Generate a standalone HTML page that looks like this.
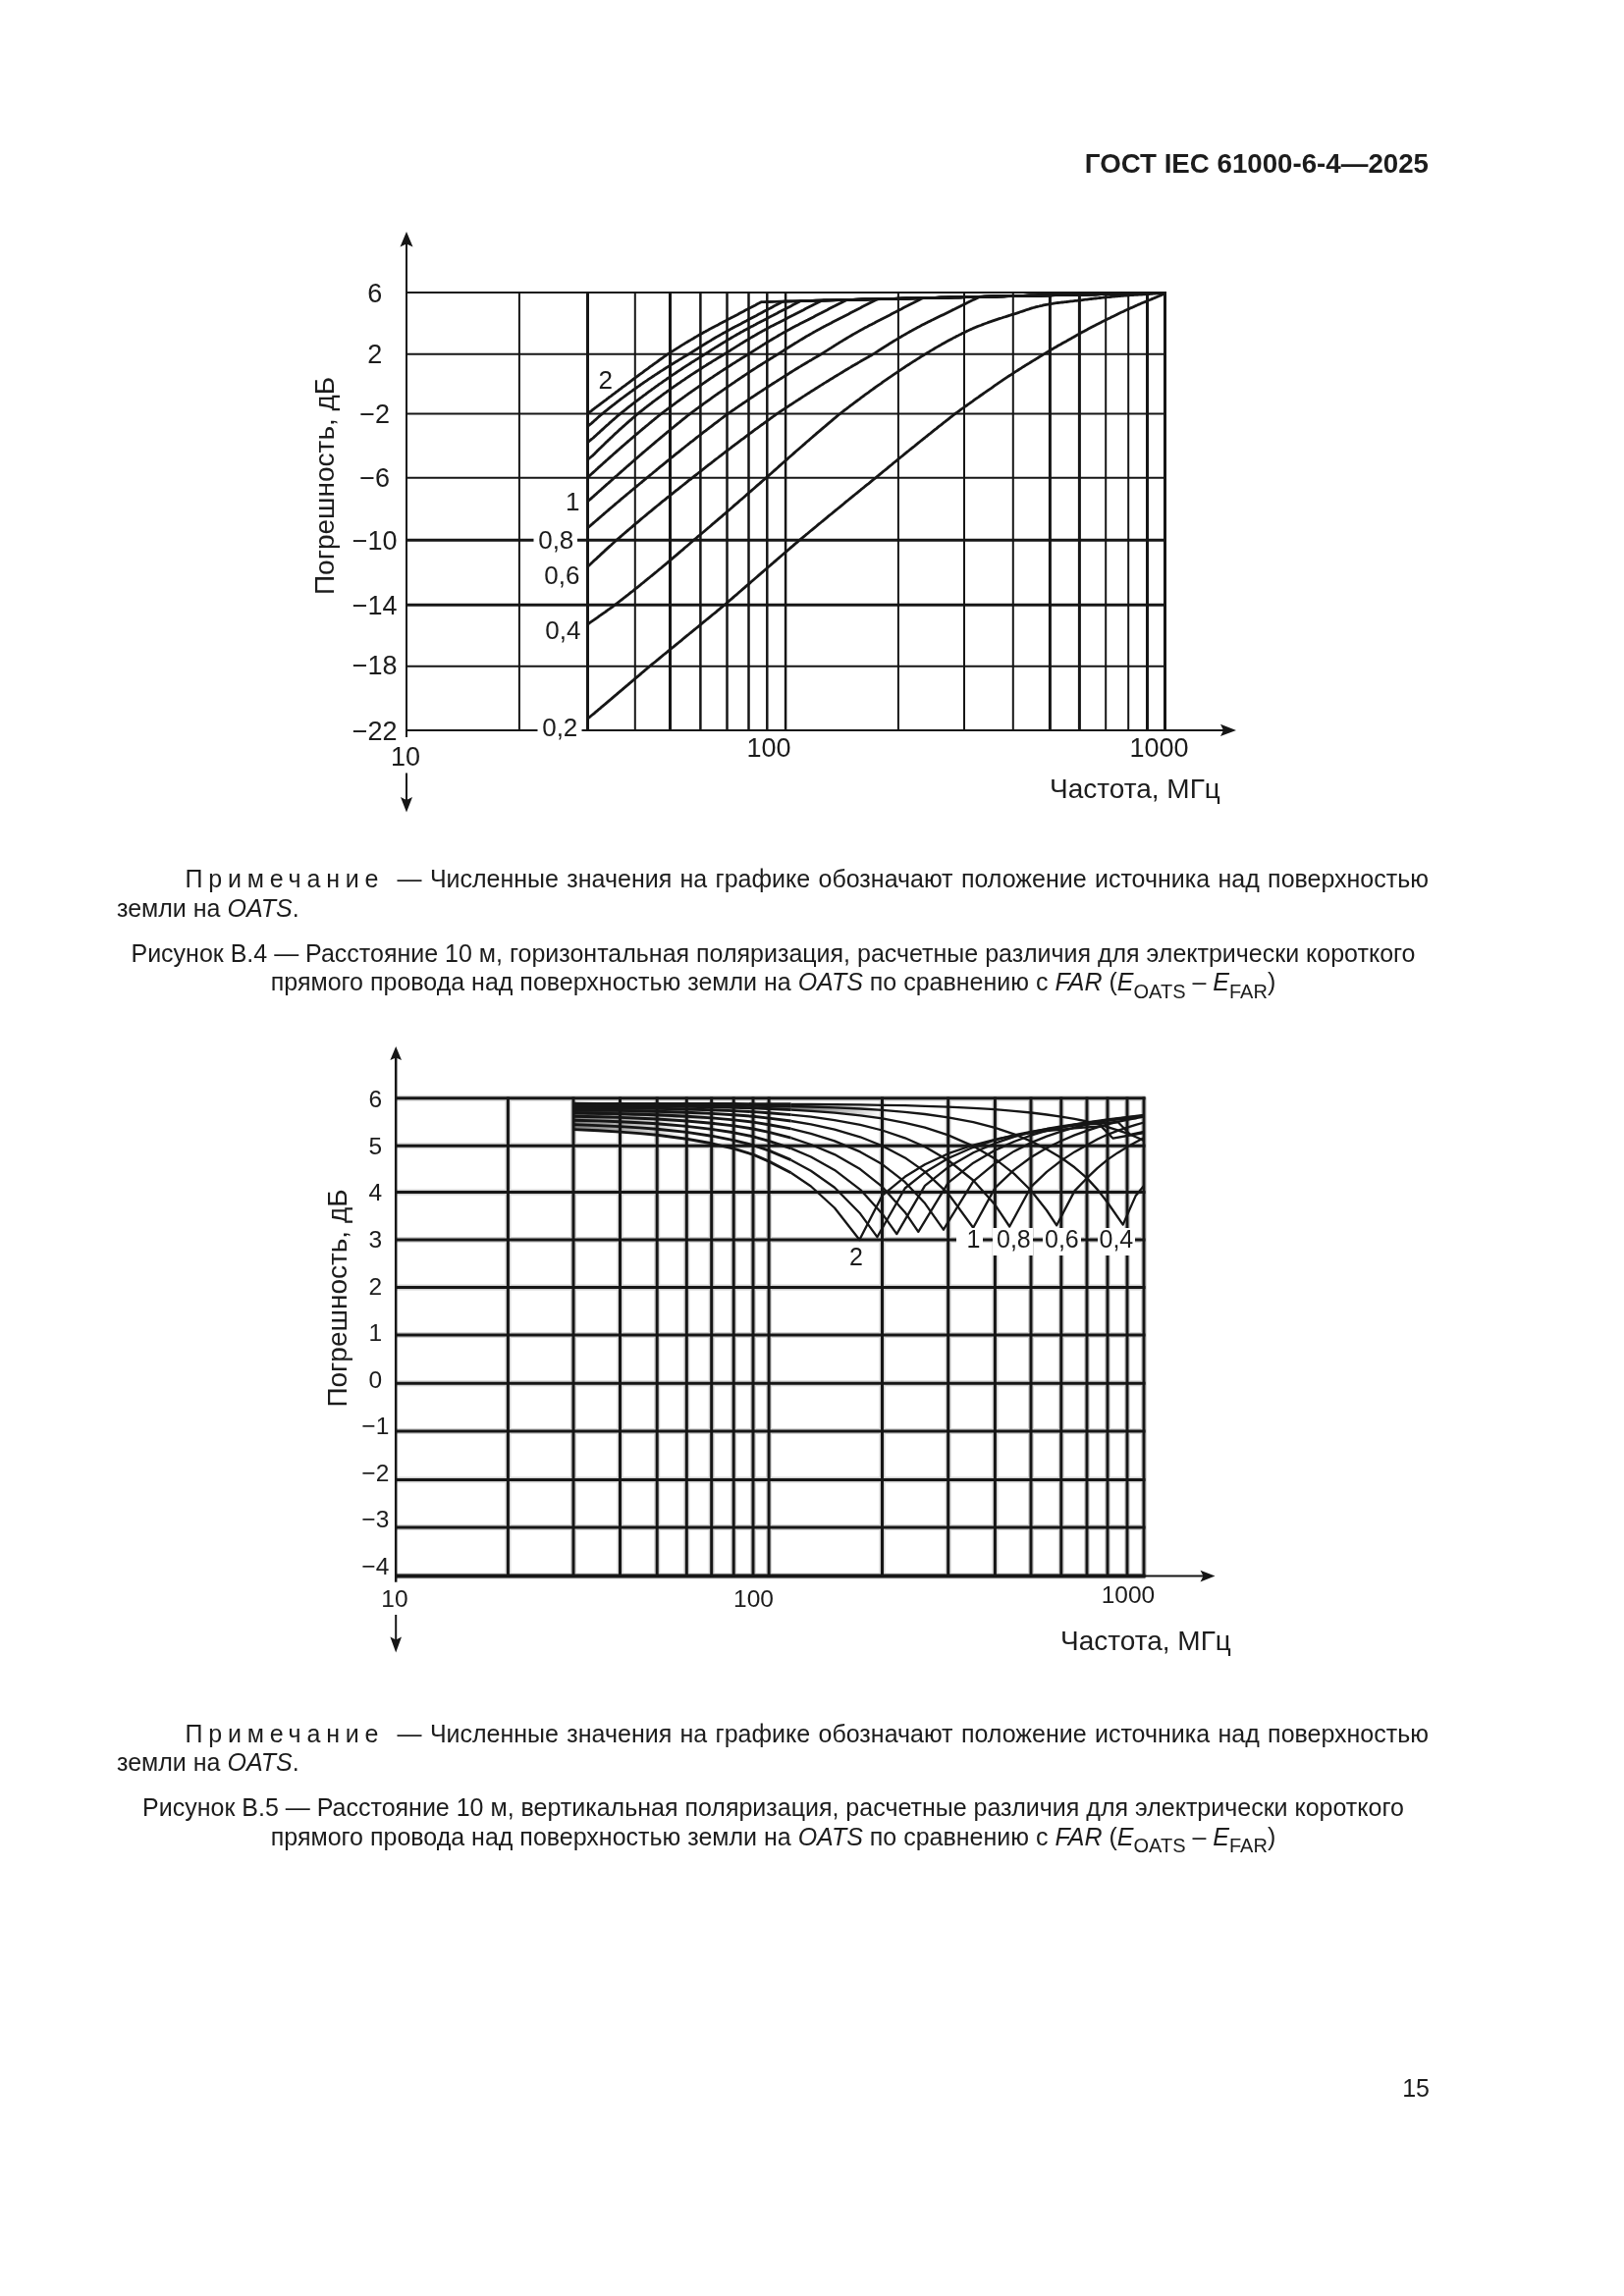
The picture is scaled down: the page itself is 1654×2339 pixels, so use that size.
<!DOCTYPE html>
<html><head><meta charset="utf-8"><style>
html,body{margin:0;padding:0;background:#fff;}
body{filter:grayscale(1);}
body{width:1654px;height:2339px;position:relative;overflow:hidden;font-family:"Liberation Sans",Arial,sans-serif;color:#1c1c1c;}
.t{position:absolute;white-space:nowrap;font-size:25px;line-height:25px;}
.hd{position:absolute;font-weight:bold;font-size:27.7px;line-height:28px;white-space:nowrap;}
.j{text-align:justify;text-align-last:justify;}
.sp{letter-spacing:5.8px;}
sub{font-size:0.8em;line-height:0;position:relative;vertical-align:baseline;top:0.38em;}
svg{position:absolute;left:0;top:0;}
svg line{stroke:#161616;}
svg path.c{fill:none;stroke:#161616;stroke-linejoin:round;}
svg path.f{fill:#161616;stroke:none;}
svg rect.w{fill:#fff;stroke:none;}
svg text{font-family:"Liberation Sans",Arial,sans-serif;fill:#1c1c1c;}
.tl{font-size:27px;} .tl2{font-size:24.5px;} .at{font-size:28px;} .cl{font-size:25px;}
</style></head><body>
<div class="hd" style="right:199px;top:152.89px;">ГОСТ IEC 61000-6-4—2025</div>
<svg width="1654" height="2339" viewBox="0 0 1654 2339">
<line x1="414" y1="298.0" x2="1187.5" y2="298.0" stroke-width="2"/>
<line x1="414" y1="360.8" x2="1187.5" y2="360.8" stroke-width="2"/>
<line x1="414" y1="421.6" x2="1187.5" y2="421.6" stroke-width="2"/>
<line x1="414" y1="486.7" x2="1187.5" y2="486.7" stroke-width="2"/>
<line x1="414" y1="550.3" x2="1187.5" y2="550.3" stroke-width="3"/>
<line x1="414" y1="616.3" x2="1187.5" y2="616.3" stroke-width="3"/>
<line x1="414" y1="678.7" x2="1187.5" y2="678.7" stroke-width="2"/>
<line x1="414" y1="743.9" x2="1187.5" y2="743.9" stroke-width="2"/>
<line x1="528.9" y1="297" x2="528.9" y2="745" stroke-width="2"/>
<line x1="598.5" y1="297" x2="598.5" y2="745" stroke-width="3"/>
<line x1="646.8" y1="297" x2="646.8" y2="745" stroke-width="2"/>
<line x1="682.5" y1="297" x2="682.5" y2="745" stroke-width="3"/>
<line x1="713.4" y1="297" x2="713.4" y2="745" stroke-width="2.5"/>
<line x1="740.5" y1="297" x2="740.5" y2="745" stroke-width="2.5"/>
<line x1="762.5" y1="297" x2="762.5" y2="745" stroke-width="2.5"/>
<line x1="781.3" y1="297" x2="781.3" y2="745" stroke-width="2.5"/>
<line x1="800.1" y1="297" x2="800.1" y2="745" stroke-width="2.5"/>
<line x1="914.9" y1="297" x2="914.9" y2="745" stroke-width="2"/>
<line x1="982" y1="297" x2="982" y2="745" stroke-width="2"/>
<line x1="1031.8" y1="297" x2="1031.8" y2="745" stroke-width="2"/>
<line x1="1069.4" y1="297" x2="1069.4" y2="745" stroke-width="3"/>
<line x1="1099.4" y1="297" x2="1099.4" y2="745" stroke-width="3"/>
<line x1="1126.2" y1="297" x2="1126.2" y2="745" stroke-width="2"/>
<line x1="1149.2" y1="297" x2="1149.2" y2="745" stroke-width="2"/>
<line x1="1168.5" y1="297" x2="1168.5" y2="745" stroke-width="3"/>
<line x1="1186.5" y1="297" x2="1186.5" y2="745" stroke-width="3"/>
<line x1="414" y1="246" x2="414" y2="751" stroke-width="2"/>
<path d="M414,236 L420.5,251.5 L414,248.5 L407.5,251.5 Z" class="f"/>
<line x1="414" y1="743.9" x2="1250" y2="743.9" stroke-width="2"/>
<path d="M1259,743.9 L1243,750 L1246,743.9 L1243,737.8 Z" class="f"/>
<line x1="414" y1="787.5" x2="414" y2="818" stroke-width="2"/>
<path d="M414,827.5 L420,812 L414,815 L408,812 Z" class="f"/>
<path d="M598.5,732.2 L600.0,731.0 L601.4,729.8 L602.9,728.5 L604.4,727.3 L605.9,726.1 L607.3,724.8 L608.8,723.6 L610.3,722.3 L611.8,721.1 L613.2,719.8 L614.7,718.6 L616.2,717.4 L617.7,716.1 L619.1,714.9 L620.6,713.6 L622.1,712.4 L623.6,711.1 L625.0,709.9 L626.5,708.6 L628.0,707.4 L629.4,706.1 L630.9,704.9 L632.4,703.6 L633.9,702.4 L635.3,701.1 L636.8,699.9 L638.3,698.6 L639.8,697.4 L641.2,696.1 L642.7,694.9 L644.2,693.6 L645.7,692.4 L647.1,691.1 L648.6,689.9 L650.1,688.6 L651.6,687.4 L653.0,686.1 L654.5,684.8 L656.0,683.6 L657.4,682.3 L658.9,681.1 L660.4,679.8 L661.9,678.6 L663.3,677.4 L664.8,676.2 L666.3,675.0 L667.8,673.8 L669.2,672.6 L670.7,671.4 L672.2,670.1 L673.7,668.9 L675.1,667.7 L676.6,666.5 L678.1,665.3 L679.6,664.1 L681.0,662.9 L682.5,661.7 L684.0,660.5 L685.4,659.3 L686.9,658.1 L688.4,656.9 L689.9,655.7 L691.3,654.5 L692.8,653.3 L694.3,652.1 L695.8,650.8 L697.2,649.6 L698.7,648.4 L700.2,647.2 L701.7,646.0 L703.1,644.8 L704.6,643.6 L706.1,642.4 L707.6,641.2 L709.0,640.0 L710.5,638.8 L712.0,637.6 L713.4,636.3 L714.9,635.1 L716.4,633.9 L717.9,632.7 L719.3,631.5 L720.8,630.3 L722.3,629.1 L723.8,627.9 L725.2,626.7 L726.7,625.5 L728.2,624.3 L729.7,623.1 L731.1,621.8 L732.6,620.6 L734.1,619.4 L735.6,618.2 L737.0,617.0 L738.5,615.8 L740.0,614.5 L741.4,613.2 L742.9,611.9 L744.4,610.7 L745.9,609.4 L747.3,608.1 L748.8,606.8 L750.3,605.6 L751.8,604.3 L753.2,603.0 L754.7,601.7 L756.2,600.4 L757.7,599.2 L759.1,597.9 L760.6,596.6 L762.1,595.3 L763.6,594.1 L765.0,592.8 L766.5,591.5 L768.0,590.2 L769.4,589.0 L770.9,587.7 L772.4,586.4 L773.9,585.1 L775.3,583.9 L776.8,582.6 L778.3,581.3 L779.8,580.0 L781.2,578.8 L782.7,577.5 L784.2,576.2 L785.7,574.9 L787.1,573.7 L788.6,572.4 L790.1,571.1 L791.6,569.8 L793.0,568.6 L794.5,567.3 L796.0,566.0 L797.4,564.8 L798.9,563.5 L800.4,562.2 L801.9,560.9 L803.3,559.7 L804.8,558.4 L806.3,557.1 L807.8,555.9 L809.2,554.6 L810.7,553.3 L812.2,552.1 L813.7,550.8 L815.1,549.6 L816.6,548.3 L818.1,547.1 L819.6,545.9 L821.0,544.7 L822.5,543.5 L824.0,542.2 L825.4,541.0 L826.9,539.8 L828.4,538.6 L829.9,537.4 L831.3,536.2 L832.8,534.9 L834.3,533.7 L835.8,532.5 L837.2,531.3 L838.7,530.1 L840.2,528.9 L841.7,527.7 L843.1,526.4 L844.6,525.2 L846.1,524.0 L847.6,522.8 L849.0,521.6 L850.5,520.4 L852.0,519.2 L853.4,518.0 L854.9,516.8 L856.4,515.6 L857.9,514.4 L859.3,513.2 L860.8,511.9 L862.3,510.7 L863.8,509.5 L865.2,508.3 L866.7,507.1 L868.2,505.9 L869.7,504.7 L871.1,503.5 L872.6,502.3 L874.1,501.1 L875.6,499.9 L877.0,498.7 L878.5,497.5 L880.0,496.3 L881.4,495.1 L882.9,493.9 L884.4,492.8 L885.9,491.6 L887.3,490.4 L888.8,489.2 L890.3,488.0 L891.8,486.8 L893.2,485.6 L894.7,484.4 L896.2,483.1 L897.7,481.9 L899.1,480.7 L900.6,479.5 L902.1,478.3 L903.6,477.1 L905.0,475.9 L906.5,474.7 L908.0,473.5 L909.4,472.2 L910.9,471.0 L912.4,469.8 L913.9,468.6 L915.3,467.4 L916.8,466.2 L918.3,465.0 L919.8,463.8 L921.2,462.6 L922.7,461.4 L924.2,460.2 L925.7,459.0 L927.1,457.8 L928.6,456.6 L930.1,455.5 L931.6,454.3 L933.0,453.1 L934.5,451.9 L936.0,450.7 L937.4,449.5 L938.9,448.3 L940.4,447.1 L941.9,446.0 L943.3,444.8 L944.8,443.6 L946.3,442.4 L947.8,441.3 L949.2,440.1 L950.7,438.9 L952.2,437.7 L953.7,436.6 L955.1,435.4 L956.6,434.2 L958.1,433.1 L959.6,431.9 L961.0,430.7 L962.5,429.6 L964.0,428.4 L965.4,427.3 L966.9,426.1 L968.4,424.9 L969.9,423.8 L971.3,422.6 L972.8,421.5 L974.3,420.4 L975.8,419.4 L977.2,418.3 L978.7,417.2 L980.2,416.2 L981.7,415.1 L983.1,414.0 L984.6,413.0 L986.1,411.9 L987.6,410.9 L989.0,409.8 L990.5,408.8 L992.0,407.7 L993.4,406.7 L994.9,405.6 L996.4,404.6 L997.9,403.5 L999.3,402.5 L1000.8,401.5 L1002.3,400.4 L1003.8,399.4 L1005.2,398.4 L1006.7,397.3 L1008.2,396.3 L1009.7,395.3 L1011.1,394.3 L1012.6,393.2 L1014.1,392.2 L1015.6,391.2 L1017.0,390.2 L1018.5,389.2 L1020.0,388.2 L1021.4,387.2 L1022.9,386.2 L1024.4,385.2 L1025.9,384.2 L1027.3,383.2 L1028.8,382.3 L1030.3,381.3 L1031.8,380.3 L1033.2,379.4 L1034.7,378.4 L1036.2,377.5 L1037.7,376.5 L1039.1,375.6 L1040.6,374.7 L1042.1,373.7 L1043.6,372.8 L1045.0,371.9 L1046.5,371.0 L1048.0,370.1 L1049.4,369.2 L1050.9,368.3 L1052.4,367.4 L1053.9,366.5 L1055.3,365.6 L1056.8,364.7 L1058.3,363.8 L1059.8,362.9 L1061.2,362.0 L1062.7,361.1 L1064.2,360.2 L1065.7,359.3 L1067.1,358.4 L1068.6,357.5 L1070.1,356.6 L1071.6,355.8 L1073.0,354.9 L1074.5,354.0 L1076.0,353.2 L1077.4,352.3 L1078.9,351.5 L1080.4,350.7 L1081.9,349.8 L1083.3,349.0 L1084.8,348.2 L1086.3,347.4 L1087.8,346.5 L1089.2,345.7 L1090.7,344.9 L1092.2,344.1 L1093.7,343.3 L1095.1,342.4 L1096.6,341.6 L1098.1,340.8 L1099.6,340.0 L1101.0,339.1 L1102.5,338.3 L1104.0,337.5 L1105.4,336.7 L1106.9,335.9 L1108.4,335.1 L1109.9,334.3 L1111.3,333.5 L1112.8,332.7 L1114.3,331.9 L1115.8,331.2 L1117.2,330.4 L1118.7,329.7 L1120.2,328.9 L1121.7,328.2 L1123.1,327.4 L1124.6,326.7 L1126.1,326.0 L1127.6,325.3 L1129.0,324.6 L1130.5,323.9 L1132.0,323.1 L1133.4,322.4 L1134.9,321.7 L1136.4,321.0 L1137.9,320.2 L1139.3,319.5 L1140.8,318.8 L1142.3,318.1 L1143.8,317.4 L1145.2,316.7 L1146.7,316.0 L1148.2,315.4 L1149.7,314.7 L1151.1,314.0 L1152.6,313.4 L1154.1,312.7 L1155.6,312.1 L1157.0,311.4 L1158.5,310.8 L1160.0,310.1 L1161.4,309.5 L1162.9,308.8 L1164.4,308.2 L1165.9,307.6 L1167.3,307.0 L1168.8,306.4 L1170.3,305.8 L1171.8,305.2 L1173.2,304.6 L1174.7,304.0 L1176.2,303.4 L1177.7,302.8 L1179.1,302.1 L1180.6,301.5 L1182.1,300.9 L1183.6,300.2 L1185.0,299.5 L1186.5,299.0" class="c" stroke-width="2.8"/>
<path d="M598.5,636.0 L600.0,635.0 L601.4,633.9 L602.9,632.9 L604.4,631.9 L605.9,630.9 L607.3,629.8 L608.8,628.8 L610.3,627.7 L611.8,626.7 L613.2,625.7 L614.7,624.6 L616.2,623.6 L617.7,622.5 L619.1,621.4 L620.6,620.4 L622.1,619.3 L623.6,618.3 L625.0,617.2 L626.5,616.1 L628.0,615.0 L629.4,613.8 L630.9,612.7 L632.4,611.5 L633.9,610.4 L635.3,609.2 L636.8,608.1 L638.3,606.9 L639.8,605.8 L641.2,604.6 L642.7,603.4 L644.2,602.3 L645.7,601.1 L647.1,599.9 L648.6,598.8 L650.1,597.6 L651.6,596.4 L653.0,595.2 L654.5,594.0 L656.0,592.8 L657.4,591.6 L658.9,590.4 L660.4,589.2 L661.9,588.0 L663.3,586.8 L664.8,585.6 L666.3,584.4 L667.8,583.2 L669.2,582.0 L670.7,580.7 L672.2,579.5 L673.7,578.3 L675.1,577.1 L676.6,575.8 L678.1,574.6 L679.6,573.4 L681.0,572.1 L682.5,570.9 L684.0,569.6 L685.4,568.4 L686.9,567.1 L688.4,565.9 L689.9,564.6 L691.3,563.4 L692.8,562.1 L694.3,560.8 L695.8,559.6 L697.2,558.3 L698.7,557.0 L700.2,555.8 L701.7,554.5 L703.1,553.2 L704.6,551.9 L706.1,550.7 L707.6,549.4 L709.0,548.2 L710.5,546.9 L712.0,545.7 L713.4,544.5 L714.9,543.2 L716.4,542.0 L717.9,540.7 L719.3,539.5 L720.8,538.2 L722.3,537.0 L723.8,535.7 L725.2,534.4 L726.7,533.2 L728.2,531.9 L729.7,530.7 L731.1,529.4 L732.6,528.1 L734.1,526.9 L735.6,525.6 L737.0,524.3 L738.5,523.1 L740.0,521.8 L741.4,520.5 L742.9,519.3 L744.4,518.0 L745.9,516.7 L747.3,515.4 L748.8,514.1 L750.3,512.9 L751.8,511.6 L753.2,510.3 L754.7,509.0 L756.2,507.8 L757.7,506.5 L759.1,505.2 L760.6,503.9 L762.1,502.6 L763.6,501.3 L765.0,500.1 L766.5,498.8 L768.0,497.5 L769.4,496.2 L770.9,494.9 L772.4,493.6 L773.9,492.4 L775.3,491.1 L776.8,489.8 L778.3,488.5 L779.8,487.2 L781.2,485.9 L782.7,484.6 L784.2,483.3 L785.7,482.0 L787.1,480.7 L788.6,479.4 L790.1,478.1 L791.6,476.8 L793.0,475.4 L794.5,474.1 L796.0,472.8 L797.4,471.5 L798.9,470.2 L800.4,468.9 L801.9,467.6 L803.3,466.3 L804.8,465.0 L806.3,463.7 L807.8,462.4 L809.2,461.1 L810.7,459.8 L812.2,458.5 L813.7,457.2 L815.1,456.0 L816.6,454.7 L818.1,453.4 L819.6,452.1 L821.0,450.8 L822.5,449.5 L824.0,448.3 L825.4,447.0 L826.9,445.7 L828.4,444.4 L829.9,443.2 L831.3,441.9 L832.8,440.6 L834.3,439.4 L835.8,438.1 L837.2,436.9 L838.7,435.6 L840.2,434.4 L841.7,433.1 L843.1,431.9 L844.6,430.6 L846.1,429.4 L847.6,428.1 L849.0,426.9 L850.5,425.7 L852.0,424.4 L853.4,423.2 L854.9,422.0 L856.4,420.8 L857.9,419.7 L859.3,418.5 L860.8,417.4 L862.3,416.3 L863.8,415.2 L865.2,414.0 L866.7,412.9 L868.2,411.8 L869.7,410.7 L871.1,409.6 L872.6,408.5 L874.1,407.4 L875.6,406.3 L877.0,405.2 L878.5,404.1 L880.0,403.0 L881.4,401.9 L882.9,400.8 L884.4,399.8 L885.9,398.7 L887.3,397.6 L888.8,396.6 L890.3,395.5 L891.8,394.4 L893.2,393.4 L894.7,392.3 L896.2,391.3 L897.7,390.3 L899.1,389.2 L900.6,388.2 L902.1,387.2 L903.6,386.1 L905.0,385.1 L906.5,384.1 L908.0,383.1 L909.4,382.1 L910.9,381.1 L912.4,380.1 L913.9,379.1 L915.3,378.1 L916.8,377.1 L918.3,376.1 L919.8,375.1 L921.2,374.2 L922.7,373.2 L924.2,372.2 L925.7,371.3 L927.1,370.3 L928.6,369.4 L930.1,368.4 L931.6,367.5 L933.0,366.6 L934.5,365.6 L936.0,364.7 L937.4,363.8 L938.9,362.9 L940.4,362.0 L941.9,361.1 L943.3,360.2 L944.8,359.3 L946.3,358.4 L947.8,357.4 L949.2,356.6 L950.7,355.7 L952.2,354.8 L953.7,353.9 L955.1,353.1 L956.6,352.2 L958.1,351.4 L959.6,350.5 L961.0,349.7 L962.5,348.9 L964.0,348.1 L965.4,347.3 L966.9,346.5 L968.4,345.7 L969.9,344.9 L971.3,344.1 L972.8,343.4 L974.3,342.6 L975.8,341.9 L977.2,341.1 L978.7,340.4 L980.2,339.6 L981.7,338.9 L983.1,338.2 L984.6,337.4 L986.1,336.8 L987.6,336.1 L989.0,335.4 L990.5,334.8 L992.0,334.1 L993.4,333.5 L994.9,332.9 L996.4,332.3 L997.9,331.7 L999.3,331.2 L1000.8,330.6 L1002.3,330.0 L1003.8,329.5 L1005.2,329.0 L1006.7,328.4 L1008.2,327.9 L1009.7,327.4 L1011.1,326.9 L1012.6,326.4 L1014.1,325.9 L1015.6,325.4 L1017.0,324.9 L1018.5,324.4 L1020.0,324.0 L1021.4,323.5 L1022.9,323.0 L1024.4,322.6 L1025.9,322.1 L1027.3,321.6 L1028.8,321.2 L1030.3,320.7 L1031.8,320.2 L1033.2,319.8 L1034.7,319.3 L1036.2,318.8 L1037.7,318.3 L1039.1,317.8 L1040.6,317.3 L1042.1,316.8 L1043.6,316.3 L1045.0,315.8 L1046.5,315.3 L1048.0,314.9 L1049.4,314.4 L1050.9,313.9 L1052.4,313.5 L1053.9,313.1 L1055.3,312.7 L1056.8,312.3 L1058.3,312.0 L1059.8,311.6 L1061.2,311.3 L1062.7,310.9 L1064.2,310.6 L1065.7,310.3 L1067.1,310.1 L1068.6,309.8 L1070.1,309.6 L1071.6,309.4 L1073.0,309.1 L1074.5,308.9 L1076.0,308.7 L1077.4,308.5 L1078.9,308.4 L1080.4,308.2 L1081.9,308.0 L1083.3,307.8 L1084.8,307.6 L1086.3,307.5 L1087.8,307.3 L1089.2,307.1 L1090.7,306.9 L1092.2,306.8 L1093.7,306.6 L1095.1,306.4 L1096.6,306.3 L1098.1,306.1 L1099.6,305.9 L1101.0,305.8 L1102.5,305.6 L1104.0,305.4 L1105.4,305.2 L1106.9,305.1 L1108.4,304.9 L1109.9,304.7 L1111.3,304.5 L1112.8,304.4 L1114.3,304.2 L1115.8,304.0 L1117.2,303.8 L1118.7,303.7 L1120.2,303.5 L1121.7,303.3 L1123.1,303.2 L1124.6,303.0 L1126.1,302.9 L1127.6,302.7 L1129.0,302.6 L1130.5,302.5 L1132.0,302.3 L1133.4,302.2 L1134.9,302.1 L1136.4,301.9 L1137.9,301.8 L1139.3,301.7 L1140.8,301.5 L1142.3,301.4 L1143.8,301.3 L1145.2,301.2 L1146.7,301.1 L1148.2,301.0 L1149.7,300.9 L1151.1,300.7 L1152.6,300.6 L1154.1,300.5 L1155.6,300.4 L1157.0,300.3 L1158.5,300.3 L1160.0,300.2 L1161.4,300.1 L1162.9,300.0 L1164.4,299.9 L1165.9,299.8 L1167.3,299.7 L1168.8,299.6 L1170.3,299.5 L1171.8,299.4 L1173.2,299.3 L1174.7,299.1 L1176.2,299.0 L1177.7,298.9 L1179.1,298.8 L1180.6,298.7 L1182.1,298.6 L1183.6,298.5 L1185.0,298.4 L1186.5,298.3" class="c" stroke-width="2.8"/>
<path d="M598.5,577.4 L598.6,577.3 L599.7,576.3 L600.7,575.3 L601.8,574.3 L602.8,573.3 L603.9,572.3 L604.9,571.3 L606.0,570.3 L607.1,569.4 L608.1,568.4 L609.2,567.4 L610.3,566.4 L611.3,565.4 L612.4,564.4 L613.5,563.4 L614.6,562.4 L615.6,561.4 L616.7,560.4 L617.8,559.4 L618.9,558.4 L620.0,557.4 L621.1,556.4 L622.2,555.5 L623.2,554.5 L624.3,553.5 L625.4,552.5 L626.5,551.5 L627.6,550.5 L628.7,549.5 L629.8,548.6 L631.0,547.6 L632.1,546.6 L633.2,545.7 L634.3,544.7 L635.4,543.8 L636.5,542.8 L637.6,541.9 L638.8,540.9 L639.9,539.9 L641.0,539.0 L642.1,538.0 L643.3,537.1 L644.4,536.1 L645.5,535.1 L646.6,534.2 L647.8,533.2 L648.9,532.3 L650.1,531.3 L651.2,530.4 L652.3,529.4 L653.5,528.4 L654.6,527.5 L655.8,526.5 L656.9,525.6 L658.1,524.6 L659.2,523.6 L660.4,522.7 L661.6,521.7 L662.7,520.8 L663.9,519.8 L665.0,518.9 L666.2,517.9 L667.4,516.9 L668.5,516.0 L669.7,515.0 L670.9,514.1 L672.1,513.1 L673.2,512.2 L674.4,511.2 L675.6,510.2 L676.8,509.3 L678.0,508.3 L679.1,507.4 L680.3,506.4 L681.5,505.5 L682.7,504.5 L683.9,503.6 L685.1,502.6 L686.3,501.6 L687.5,500.7 L688.7,499.7 L689.9,498.8 L691.1,497.8 L692.3,496.9 L693.5,495.9 L694.7,495.0 L695.9,494.0 L697.1,493.1 L698.3,492.1 L699.5,491.2 L700.7,490.2 L701.9,489.2 L703.2,488.3 L704.4,487.3 L705.6,486.4 L706.8,485.4 L708.0,484.4 L709.3,483.5 L710.5,482.5 L711.7,481.5 L713.0,480.5 L714.2,479.6 L715.4,478.6 L716.7,477.6 L717.9,476.7 L719.1,475.7 L720.4,474.7 L721.6,473.7 L722.8,472.8 L724.1,471.8 L725.3,470.8 L726.6,469.9 L727.8,468.9 L729.1,467.9 L730.3,467.0 L731.6,466.0 L732.8,465.0 L734.1,464.1 L735.3,463.1 L736.6,462.1 L737.9,461.2 L739.1,460.2 L740.4,459.2 L741.6,458.3 L742.9,457.3 L744.2,456.4 L745.4,455.4 L746.7,454.4 L748.0,453.5 L749.2,452.5 L750.5,451.6 L751.8,450.6 L753.1,449.6 L754.3,448.7 L755.6,447.7 L756.9,446.8 L758.2,445.8 L759.4,444.9 L760.7,443.9 L762.0,442.9 L763.3,442.0 L764.6,441.0 L765.9,440.1 L767.1,439.1 L768.4,438.2 L769.7,437.2 L771.0,436.3 L772.3,435.3 L773.6,434.4 L774.9,433.4 L776.2,432.5 L777.5,431.6 L778.8,430.6 L780.1,429.7 L781.4,428.7 L782.7,427.8 L784.0,426.8 L785.3,425.9 L786.6,425.0 L787.9,424.0 L789.2,423.1 L790.5,422.1 L791.8,421.2 L793.1,420.4 L794.4,419.5 L795.7,418.6 L797.0,417.7 L798.4,416.9 L799.7,416.0 L801.0,415.1 L802.3,414.3 L803.6,413.4 L804.9,412.5 L806.3,411.7 L807.6,410.8 L808.9,409.9 L810.2,409.1 L811.5,408.2 L812.9,407.4 L814.2,406.5 L815.5,405.7 L816.8,404.8 L818.1,403.9 L819.5,403.1 L820.8,402.2 L822.1,401.4 L823.5,400.5 L824.8,399.7 L826.1,398.8 L827.4,398.0 L828.8,397.2 L830.1,396.3 L831.4,395.5 L832.8,394.6 L834.1,393.8 L835.4,392.9 L836.8,392.1 L838.1,391.3 L839.4,390.4 L840.8,389.6 L842.1,388.8 L843.5,388.0 L844.8,387.1 L846.1,386.3 L847.5,385.5 L848.8,384.7 L850.1,383.8 L851.5,383.0 L852.8,382.2 L854.2,381.4 L855.5,380.6 L856.9,379.8 L858.2,379.0 L859.5,378.1 L860.9,377.3 L862.2,376.5 L863.6,375.7 L864.9,374.9 L866.3,374.1 L867.6,373.3 L868.9,372.5 L870.3,371.8 L871.6,371.0 L873.0,370.2 L874.3,369.4 L875.7,368.6 L877.0,367.8 L878.4,367.0 L879.7,366.3 L881.1,365.5 L882.4,364.7 L883.8,364.0 L885.1,363.2 L886.5,362.4 L887.8,361.7 L889.1,360.9 L890.4,360.1 L891.6,359.4 L892.7,358.6 L893.9,357.8 L895.1,357.0 L896.3,356.3 L897.5,355.5 L898.7,354.7 L899.9,354.0 L901.1,353.2 L902.3,352.5 L903.5,351.7 L904.7,351.0 L905.9,350.2 L907.0,349.5 L908.2,348.8 L909.4,348.0 L910.6,347.3 L911.8,346.6 L913.0,345.9 L914.2,345.2 L915.4,344.4 L916.6,343.7 L917.8,343.0 L919.0,342.3 L920.2,341.6 L921.4,340.9 L922.5,340.3 L923.7,339.6 L924.9,338.9 L926.1,338.2 L927.3,337.5 L928.5,336.9 L929.7,336.2 L930.9,335.6 L932.1,334.9 L933.3,334.3 L934.5,333.6 L935.7,333.0 L936.8,332.4 L938.0,331.7 L939.2,331.1 L940.4,330.5 L941.6,329.9 L942.8,329.3 L944.0,328.7 L945.2,328.1 L946.4,327.5 L947.6,326.9 L948.8,326.3 L950.0,325.8 L952.0,324.8 L954.0,323.8 L956.0,322.8 L958.0,321.8 L960.0,320.9 L962.0,319.9 L964.0,318.9 L966.0,317.9 L968.0,316.9 L970.0,315.9 L972.0,315.0 L974.0,314.0 L976.0,313.0 L978.0,312.0 L980.0,311.0 L982.0,310.0 L984.0,309.1 L986.0,308.1 L988.0,307.1 L990.0,306.1 L992.0,305.1 L994.0,304.2 L996.0,303.2 L998.0,302.3 L1004.0,302.2 L1010.0,302.1 L1016.0,301.9 L1022.0,301.8 L1028.0,301.7 L1034.0,301.5 L1040.0,301.4 L1046.0,301.3 L1052.0,301.1 L1058.0,301.0 L1064.0,300.9 L1070.0,300.8 L1076.0,300.6 L1082.0,300.5 L1088.0,300.4 L1094.0,300.2 L1100.0,300.1 L1106.0,300.0 L1112.0,299.9 L1118.0,299.7 L1124.0,299.6 L1130.0,299.5 L1136.0,299.4 L1142.0,299.2 L1148.0,299.1 L1154.0,299.0 L1160.0,298.9 L1166.0,298.7 L1172.0,298.6 L1178.0,298.5 L1184.0,298.4 L1186.5,298.3" class="c" stroke-width="2.8"/>
<path d="M598.5,537.9 L599.3,537.2 L600.4,536.2 L601.5,535.3 L602.6,534.3 L603.7,533.4 L604.8,532.4 L605.9,531.5 L607.0,530.5 L608.1,529.6 L609.2,528.6 L610.3,527.7 L611.4,526.7 L612.5,525.8 L613.6,524.8 L614.7,523.9 L615.8,522.9 L616.9,522.0 L618.0,521.0 L619.1,520.1 L620.2,519.1 L621.3,518.2 L622.4,517.2 L623.6,516.3 L624.7,515.3 L625.8,514.4 L626.9,513.4 L628.0,512.5 L629.2,511.5 L630.3,510.6 L631.4,509.6 L632.5,508.7 L633.7,507.7 L634.8,506.8 L635.9,505.8 L637.1,504.9 L638.2,503.9 L639.3,503.0 L640.5,502.0 L641.6,501.1 L642.7,500.1 L643.9,499.2 L645.0,498.2 L646.2,497.3 L647.3,496.3 L648.5,495.4 L649.6,494.4 L650.8,493.5 L651.9,492.5 L653.1,491.6 L654.2,490.6 L655.4,489.7 L656.5,488.7 L657.7,487.8 L658.8,486.8 L660.0,485.9 L661.2,484.9 L662.3,483.9 L663.5,483.0 L664.7,482.0 L665.8,481.0 L667.0,480.1 L668.2,479.1 L669.3,478.1 L670.5,477.2 L671.7,476.2 L672.9,475.2 L674.0,474.3 L675.2,473.3 L676.4,472.3 L677.6,471.4 L678.8,470.4 L680.0,469.4 L681.1,468.5 L682.3,467.5 L683.5,466.5 L684.7,465.6 L685.9,464.6 L687.1,463.6 L688.3,462.7 L689.5,461.7 L690.7,460.8 L691.9,459.8 L693.1,458.8 L694.3,457.9 L695.5,456.9 L696.7,456.0 L697.9,455.0 L699.1,454.0 L700.3,453.1 L701.5,452.1 L702.7,451.2 L703.9,450.2 L705.2,449.3 L706.4,448.3 L707.6,447.4 L708.8,446.4 L710.0,445.4 L711.2,444.5 L712.5,443.5 L713.7,442.6 L714.9,441.6 L716.1,440.7 L717.4,439.7 L718.6,438.8 L719.8,437.8 L721.1,436.9 L722.3,435.9 L723.5,435.0 L724.8,434.1 L726.0,433.1 L727.2,432.2 L728.5,431.2 L729.7,430.3 L731.0,429.3 L732.2,428.4 L733.4,427.5 L734.7,426.5 L735.9,425.6 L737.2,424.6 L738.4,423.7 L739.7,422.8 L740.9,421.8 L742.2,420.9 L743.4,420.1 L744.7,419.2 L745.9,418.3 L747.2,417.5 L748.5,416.6 L749.7,415.7 L751.0,414.9 L752.2,414.0 L753.5,413.1 L754.8,412.3 L756.0,411.4 L757.3,410.5 L758.6,409.7 L759.9,408.8 L761.1,408.0 L762.4,407.1 L763.7,406.2 L764.9,405.4 L766.2,404.5 L767.5,403.7 L768.8,402.8 L770.0,402.0 L771.3,401.1 L772.6,400.3 L773.9,399.4 L775.2,398.6 L776.5,397.8 L777.7,396.9 L779.0,396.1 L780.3,395.2 L781.6,394.4 L782.9,393.5 L784.2,392.7 L785.5,391.9 L786.8,391.0 L788.1,390.2 L789.4,389.4 L790.7,388.6 L792.0,387.7 L793.3,386.9 L794.6,386.1 L795.9,385.3 L797.2,384.4 L798.5,383.6 L799.8,382.8 L801.1,382.0 L802.4,381.2 L803.7,380.4 L805.0,379.5 L806.3,378.7 L807.6,377.9 L808.9,377.1 L810.2,376.3 L811.5,375.5 L812.8,374.7 L814.1,373.9 L815.5,373.1 L816.8,372.3 L818.1,371.6 L819.4,370.8 L820.7,370.0 L822.0,369.2 L823.3,368.4 L824.7,367.6 L826.0,366.9 L827.3,366.1 L828.6,365.3 L829.9,364.5 L831.3,363.8 L832.6,363.0 L833.9,362.2 L835.2,361.5 L836.5,360.7 L837.7,359.9 L838.9,359.2 L840.1,358.4 L841.3,357.6 L842.5,356.9 L843.7,356.1 L844.9,355.3 L846.1,354.6 L847.3,353.8 L848.5,353.1 L849.6,352.3 L850.8,351.6 L852.0,350.8 L853.2,350.1 L854.4,349.3 L855.6,348.6 L856.8,347.9 L858.0,347.2 L859.2,346.4 L860.4,345.7 L861.6,345.0 L862.8,344.3 L863.9,343.6 L865.1,342.9 L866.3,342.2 L867.5,341.5 L868.7,340.8 L869.9,340.1 L871.1,339.4 L872.3,338.8 L873.5,338.1 L874.7,337.4 L875.9,336.7 L877.1,336.1 L878.3,335.4 L879.4,334.8 L880.6,334.1 L881.8,333.5 L883.0,332.9 L884.2,332.2 L885.4,331.6 L886.6,331.0 L887.8,330.4 L889.0,329.8 L890.2,329.2 L892.2,328.1 L894.2,327.1 L896.2,326.1 L898.2,325.0 L900.2,324.0 L902.2,323.0 L904.2,321.9 L906.2,320.9 L908.2,319.8 L910.2,318.8 L912.2,317.8 L914.2,316.7 L916.2,315.7 L918.2,314.7 L920.2,313.6 L922.2,312.6 L924.2,311.6 L926.2,310.5 L928.2,309.5 L930.2,308.5 L932.2,307.4 L934.2,306.4 L936.2,305.4 L938.2,304.3 L940.2,303.6 L946.2,303.5 L952.2,303.3 L958.2,303.2 L964.2,303.1 L970.2,302.9 L976.2,302.8 L982.2,302.7 L988.2,302.5 L994.2,302.4 L1000.2,302.3 L1006.2,302.1 L1012.2,302.0 L1018.2,301.9 L1024.2,301.7 L1030.2,301.6 L1036.2,301.5 L1042.2,301.4 L1048.2,301.2 L1054.2,301.1 L1060.2,301.0 L1066.2,300.8 L1072.2,300.7 L1078.2,300.6 L1084.2,300.5 L1090.2,300.3 L1096.2,300.2 L1102.2,300.1 L1108.2,299.9 L1114.2,299.8 L1120.2,299.7 L1126.2,299.6 L1132.2,299.4 L1138.2,299.3 L1144.2,299.2 L1150.2,299.1 L1156.2,298.9 L1162.2,298.8 L1168.2,298.7 L1174.2,298.6 L1180.2,298.4 L1186.2,298.3 L1186.5,298.3" class="c" stroke-width="2.8"/>
<path d="M598.5,510.7 L599.5,510.0 L600.7,509.0 L601.7,508.1 L602.8,507.1 L603.8,506.2 L604.9,505.3 L605.9,504.3 L607.0,503.4 L608.0,502.4 L609.1,501.5 L610.1,500.5 L611.2,499.6 L612.2,498.7 L613.3,497.7 L614.4,496.8 L615.4,495.8 L616.5,494.9 L617.6,493.9 L618.6,493.0 L619.7,492.1 L620.8,491.1 L621.8,490.2 L622.9,489.2 L624.0,488.3 L625.1,487.3 L626.1,486.4 L627.2,485.4 L628.3,484.5 L629.4,483.5 L630.5,482.5 L631.5,481.6 L632.6,480.6 L633.7,479.7 L634.8,478.7 L635.9,477.7 L637.0,476.8 L638.1,475.8 L639.2,474.8 L640.3,473.9 L641.4,472.9 L642.5,472.0 L643.6,471.0 L644.7,470.0 L645.8,469.1 L646.9,468.1 L648.0,467.2 L649.1,466.2 L650.2,465.2 L651.3,464.3 L652.4,463.3 L653.5,462.4 L654.6,461.4 L655.8,460.4 L656.9,459.5 L658.0,458.5 L659.1,457.6 L660.2,456.6 L661.4,455.7 L662.5,454.7 L663.6,453.8 L664.7,452.8 L665.9,451.8 L667.0,450.9 L668.1,449.9 L669.2,449.0 L670.4,448.0 L671.5,447.1 L672.7,446.1 L673.8,445.2 L674.9,444.2 L676.1,443.3 L677.2,442.3 L678.4,441.4 L679.5,440.4 L680.6,439.5 L681.8,438.5 L682.9,437.6 L684.1,436.7 L685.2,435.7 L686.4,434.8 L687.5,433.8 L688.7,432.9 L689.9,431.9 L691.0,431.0 L692.2,430.1 L693.3,429.1 L694.5,428.2 L695.7,427.2 L696.8,426.3 L698.0,425.4 L699.2,424.4 L700.3,423.5 L701.5,422.6 L702.7,421.6 L703.8,420.8 L705.0,419.9 L706.2,419.0 L707.4,418.2 L708.5,417.3 L709.7,416.4 L710.9,415.6 L712.1,414.7 L713.3,413.8 L714.4,413.0 L715.6,412.1 L716.8,411.2 L718.0,410.4 L719.2,409.5 L720.4,408.7 L721.6,407.8 L722.8,407.0 L724.0,406.1 L725.2,405.2 L726.3,404.4 L727.5,403.5 L728.7,402.7 L729.9,401.8 L731.1,401.0 L732.3,400.2 L733.6,399.3 L734.8,398.5 L736.0,397.6 L737.2,396.8 L738.4,395.9 L739.6,395.1 L740.8,394.3 L742.0,393.4 L743.2,392.6 L744.4,391.8 L745.7,390.9 L746.9,390.1 L748.1,389.3 L749.3,388.4 L750.5,387.6 L751.7,386.8 L753.0,386.0 L754.2,385.1 L755.4,384.3 L756.6,383.5 L757.9,382.7 L759.1,381.9 L760.3,381.1 L761.6,380.3 L762.8,379.4 L764.0,378.6 L765.2,377.8 L766.5,377.0 L767.7,376.2 L769.0,375.4 L770.2,374.6 L771.4,373.8 L772.7,373.0 L773.9,372.3 L775.1,371.5 L776.4,370.7 L777.6,369.9 L778.9,369.1 L780.1,368.3 L781.4,367.6 L782.6,366.8 L783.9,366.0 L785.1,365.2 L786.3,364.5 L787.6,363.7 L788.8,362.9 L790.1,362.2 L791.3,361.4 L792.6,360.7 L793.8,359.9 L795.0,359.1 L796.2,358.3 L797.4,357.6 L798.5,356.8 L799.7,356.0 L800.9,355.3 L802.1,354.5 L803.3,353.8 L804.5,353.0 L805.7,352.3 L806.9,351.5 L808.1,350.8 L809.3,350.0 L810.5,349.3 L811.7,348.6 L812.9,347.8 L814.0,347.1 L815.2,346.4 L816.4,345.7 L817.6,345.0 L818.8,344.3 L820.0,343.5 L821.2,342.8 L822.4,342.1 L823.6,341.5 L824.8,340.8 L826.0,340.1 L827.2,339.4 L828.3,338.7 L829.5,338.1 L830.7,337.4 L831.9,336.7 L833.1,336.1 L834.3,335.4 L835.5,334.8 L836.7,334.1 L837.9,333.5 L839.1,332.8 L840.3,332.2 L841.5,331.6 L842.6,331.0 L843.8,330.4 L845.0,329.8 L846.2,329.2 L848.2,328.1 L850.2,327.1 L852.2,326.1 L854.2,325.0 L856.2,324.0 L858.2,323.0 L860.2,321.9 L862.2,320.9 L864.2,319.9 L866.2,318.8 L868.2,317.8 L870.2,316.8 L872.2,315.7 L874.2,314.7 L876.2,313.7 L878.2,312.6 L880.2,311.6 L882.2,310.6 L884.2,309.5 L886.2,308.5 L888.2,307.5 L890.2,306.4 L892.2,305.4 L894.2,304.7 L900.2,304.5 L906.2,304.4 L912.2,304.3 L918.2,304.1 L924.2,304.0 L930.2,303.8 L936.2,303.7 L942.2,303.6 L948.2,303.4 L954.2,303.3 L960.2,303.2 L966.2,303.0 L972.2,302.9 L978.2,302.8 L984.2,302.6 L990.2,302.5 L996.2,302.4 L1002.2,302.2 L1008.2,302.1 L1014.2,302.0 L1020.2,301.8 L1026.2,301.7 L1032.2,301.6 L1038.2,301.4 L1044.2,301.3 L1050.2,301.2 L1056.2,301.1 L1062.2,300.9 L1068.2,300.8 L1074.2,300.7 L1080.2,300.5 L1086.2,300.4 L1092.2,300.3 L1098.2,300.2 L1104.2,300.0 L1110.2,299.9 L1116.2,299.8 L1122.2,299.6 L1128.2,299.5 L1134.2,299.4 L1140.2,299.3 L1146.2,299.1 L1152.2,299.0 L1158.2,298.9 L1164.2,298.8 L1170.2,298.6 L1176.2,298.5 L1182.2,298.4 L1186.5,298.3" class="c" stroke-width="2.8"/>
<path d="M598.5,486.3 L599.3,485.7 L600.4,484.7 L601.4,483.8 L602.5,482.8 L603.5,481.9 L604.6,480.9 L605.6,480.0 L606.7,479.0 L607.7,478.0 L608.8,477.1 L609.8,476.1 L610.9,475.2 L611.9,474.2 L613.0,473.3 L614.1,472.3 L615.1,471.3 L616.2,470.4 L617.2,469.4 L618.3,468.5 L619.4,467.5 L620.4,466.6 L621.5,465.6 L622.6,464.7 L623.7,463.7 L624.7,462.8 L625.8,461.8 L626.9,460.9 L628.0,459.9 L629.1,458.9 L630.2,458.0 L631.2,457.0 L632.3,456.1 L633.4,455.1 L634.5,454.2 L635.6,453.2 L636.7,452.3 L637.8,451.3 L638.9,450.4 L640.0,449.4 L641.1,448.5 L642.2,447.5 L643.3,446.6 L644.4,445.7 L645.5,444.7 L646.6,443.8 L647.7,442.8 L648.9,441.9 L650.0,440.9 L651.1,440.0 L652.2,439.0 L653.3,438.1 L654.4,437.2 L655.6,436.2 L656.7,435.3 L657.8,434.3 L659.0,433.4 L660.1,432.5 L661.2,431.5 L662.3,430.6 L663.5,429.6 L664.6,428.7 L665.8,427.8 L666.9,426.8 L668.0,425.9 L669.2,425.0 L670.3,424.0 L671.5,423.1 L672.6,422.2 L673.8,421.3 L674.9,420.4 L676.1,419.5 L677.2,418.7 L678.4,417.8 L679.5,416.9 L680.7,416.1 L681.9,415.2 L683.0,414.3 L684.2,413.5 L685.3,412.6 L686.5,411.8 L687.7,410.9 L688.9,410.0 L690.0,409.2 L691.2,408.3 L692.4,407.5 L693.5,406.6 L694.7,405.8 L695.9,404.9 L697.1,404.1 L698.3,403.2 L699.5,402.4 L700.6,401.5 L701.8,400.7 L703.0,399.8 L704.2,399.0 L705.4,398.2 L706.6,397.3 L707.8,396.5 L709.0,395.6 L710.2,394.8 L711.4,394.0 L712.6,393.1 L713.8,392.3 L715.0,391.5 L716.2,390.6 L717.4,389.8 L718.6,389.0 L719.8,388.2 L721.0,387.3 L722.2,386.5 L723.4,385.7 L724.6,384.9 L725.9,384.1 L727.1,383.2 L728.3,382.4 L729.5,381.6 L730.7,380.8 L732.0,380.0 L733.2,379.2 L734.4,378.4 L735.6,377.6 L736.8,376.8 L738.1,376.0 L739.3,375.2 L740.5,374.4 L741.8,373.6 L743.0,372.8 L744.2,372.0 L745.5,371.2 L746.7,370.4 L747.9,369.7 L749.2,368.9 L750.4,368.1 L751.7,367.3 L752.9,366.6 L754.1,365.8 L755.4,365.0 L756.6,364.2 L757.9,363.5 L759.1,362.7 L760.4,362.0 L761.6,361.2 L762.8,360.4 L764.0,359.7 L765.2,358.9 L766.4,358.1 L767.6,357.3 L768.8,356.6 L770.0,355.8 L771.2,355.1 L772.4,354.3 L773.6,353.6 L774.8,352.8 L776.0,352.1 L777.1,351.3 L778.3,350.6 L779.5,349.8 L780.7,349.1 L781.9,348.4 L783.1,347.7 L784.3,346.9 L785.5,346.2 L786.7,345.5 L787.9,344.8 L789.1,344.1 L790.3,343.4 L791.5,342.7 L792.6,342.0 L793.8,341.3 L795.0,340.6 L796.2,339.9 L797.4,339.2 L798.6,338.6 L799.8,337.9 L801.0,337.2 L802.2,336.6 L803.4,335.9 L804.6,335.3 L805.8,334.6 L806.9,334.0 L808.1,333.3 L809.3,332.7 L810.5,332.1 L811.7,331.5 L812.9,330.9 L814.1,330.2 L815.3,329.6 L816.5,329.0 L818.5,328.0 L820.5,327.0 L822.5,326.0 L824.5,324.9 L826.5,323.9 L828.5,322.9 L830.5,321.8 L832.5,320.8 L834.5,319.8 L836.5,318.8 L838.5,317.7 L840.5,316.7 L842.5,315.7 L844.5,314.6 L846.5,313.6 L848.5,312.6 L850.5,311.6 L852.5,310.5 L854.5,309.5 L856.5,308.5 L858.5,307.4 L860.5,306.4 L862.5,305.4 L868.5,305.3 L874.5,305.2 L880.5,305.0 L886.5,304.9 L892.5,304.7 L898.5,304.6 L904.5,304.4 L910.5,304.3 L916.5,304.2 L922.5,304.0 L928.5,303.9 L934.5,303.8 L940.5,303.6 L946.5,303.5 L952.5,303.3 L958.5,303.2 L964.5,303.1 L970.5,302.9 L976.5,302.8 L982.5,302.7 L988.5,302.5 L994.5,302.4 L1000.5,302.3 L1006.5,302.1 L1012.5,302.0 L1018.5,301.9 L1024.5,301.7 L1030.5,301.6 L1036.5,301.5 L1042.5,301.4 L1048.5,301.2 L1054.5,301.1 L1060.5,301.0 L1066.5,300.8 L1072.5,300.7 L1078.5,300.6 L1084.5,300.4 L1090.5,300.3 L1096.5,300.2 L1102.5,300.1 L1108.5,299.9 L1114.5,299.8 L1120.5,299.7 L1126.5,299.6 L1132.5,299.4 L1138.5,299.3 L1144.5,299.2 L1150.5,299.1 L1156.5,298.9 L1162.5,298.8 L1168.5,298.7 L1174.5,298.5 L1180.5,298.4 L1186.5,298.3 L1186.5,298.3" class="c" stroke-width="2.8"/>
<path d="M598.5,468.2 L598.9,467.9 L600.1,466.9 L601.3,466.0 L602.5,465.0 L603.7,464.1 L604.6,463.1 L605.6,462.2 L606.5,461.2 L607.5,460.3 L608.4,459.3 L609.4,458.4 L610.3,457.4 L611.3,456.5 L612.3,455.6 L613.2,454.6 L614.2,453.7 L615.2,452.7 L616.2,451.8 L617.1,450.8 L618.1,449.9 L619.1,448.9 L620.1,448.0 L621.1,447.1 L622.1,446.1 L623.1,445.2 L624.1,444.2 L625.1,443.3 L626.1,442.3 L627.1,441.4 L628.2,440.5 L629.2,439.5 L630.2,438.6 L631.2,437.6 L632.3,436.7 L633.3,435.8 L634.3,434.8 L635.4,433.9 L636.4,433.0 L637.5,432.0 L638.5,431.1 L639.6,430.2 L640.6,429.2 L641.7,428.3 L642.8,427.4 L643.8,426.4 L644.9,425.5 L646.0,424.6 L647.1,423.6 L648.1,422.7 L649.2,421.8 L650.3,420.9 L651.4,420.0 L652.5,419.2 L653.6,418.3 L654.7,417.5 L655.8,416.6 L656.9,415.7 L658.0,414.9 L659.1,414.0 L660.2,413.2 L661.3,412.3 L662.5,411.4 L663.6,410.6 L664.7,409.7 L665.8,408.9 L667.0,408.0 L668.1,407.2 L669.2,406.3 L670.4,405.5 L671.5,404.6 L672.7,403.8 L673.8,402.9 L675.0,402.1 L676.1,401.2 L677.3,400.4 L678.5,399.6 L679.6,398.7 L680.8,397.9 L682.0,397.0 L683.2,396.2 L684.3,395.4 L685.5,394.5 L686.7,393.7 L687.9,392.9 L689.1,392.0 L690.3,391.2 L691.5,390.4 L692.7,389.6 L693.9,388.7 L695.1,387.9 L696.3,387.1 L697.5,386.3 L698.7,385.4 L699.9,384.6 L701.1,383.8 L702.4,383.0 L703.6,382.2 L704.8,381.4 L706.0,380.6 L707.3,379.8 L708.5,379.0 L709.7,378.2 L711.0,377.4 L712.2,376.6 L713.5,375.8 L714.7,375.0 L715.9,374.2 L717.2,373.4 L718.5,372.6 L719.7,371.8 L721.0,371.0 L722.2,370.2 L723.5,369.5 L724.8,368.7 L726.0,367.9 L727.3,367.1 L728.6,366.4 L729.8,365.6 L731.1,364.8 L732.4,364.1 L733.7,363.3 L735.0,362.5 L736.2,361.8 L737.5,361.0 L738.7,360.2 L739.9,359.5 L741.1,358.7 L742.3,357.9 L743.5,357.2 L744.7,356.4 L745.9,355.6 L747.1,354.9 L748.3,354.1 L749.5,353.4 L750.7,352.6 L751.9,351.9 L753.1,351.2 L754.2,350.4 L755.4,349.7 L756.6,349.0 L757.8,348.2 L759.0,347.5 L760.2,346.8 L761.4,346.1 L762.6,345.4 L763.8,344.6 L765.0,343.9 L766.2,343.2 L767.4,342.5 L768.5,341.9 L769.7,341.2 L770.9,340.5 L772.1,339.8 L773.3,339.1 L774.5,338.4 L775.7,337.8 L776.9,337.1 L778.1,336.5 L779.3,335.8 L780.5,335.2 L781.7,334.5 L782.8,333.9 L784.0,333.2 L785.2,332.6 L786.4,332.0 L787.6,331.4 L788.8,330.8 L790.0,330.2 L791.2,329.6 L792.4,329.0 L794.4,327.9 L796.4,326.9 L798.4,325.9 L800.4,324.9 L802.4,323.8 L804.4,322.8 L806.4,321.8 L808.4,320.8 L810.4,319.7 L812.4,318.7 L814.4,317.7 L816.4,316.7 L818.4,315.7 L820.4,314.6 L822.4,313.6 L824.4,312.6 L826.4,311.6 L828.4,310.5 L830.4,309.5 L832.4,308.5 L834.4,307.5 L836.4,306.4 L838.4,306.0 L844.4,305.9 L850.4,305.7 L856.4,305.6 L862.4,305.4 L868.4,305.3 L874.4,305.2 L880.4,305.0 L886.4,304.9 L892.4,304.7 L898.4,304.6 L904.4,304.4 L910.4,304.3 L916.4,304.2 L922.4,304.0 L928.4,303.9 L934.4,303.8 L940.4,303.6 L946.4,303.5 L952.4,303.3 L958.4,303.2 L964.4,303.1 L970.4,302.9 L976.4,302.8 L982.4,302.7 L988.4,302.5 L994.4,302.4 L1000.4,302.3 L1006.4,302.1 L1012.4,302.0 L1018.4,301.9 L1024.4,301.7 L1030.4,301.6 L1036.4,301.5 L1042.4,301.4 L1048.4,301.2 L1054.4,301.1 L1060.4,301.0 L1066.4,300.8 L1072.4,300.7 L1078.4,300.6 L1084.4,300.4 L1090.4,300.3 L1096.4,300.2 L1102.4,300.1 L1108.4,299.9 L1114.4,299.8 L1120.4,299.7 L1126.4,299.6 L1132.4,299.4 L1138.4,299.3 L1144.4,299.2 L1150.4,299.1 L1156.4,298.9 L1162.4,298.8 L1168.4,298.7 L1174.4,298.6 L1180.4,298.4 L1186.4,298.3 L1186.5,298.3" class="c" stroke-width="2.8"/>
<path d="M598.5,450.6 L598.9,450.3 L600.1,449.3 L601.3,448.4 L602.5,447.4 L603.7,446.5 L604.8,445.6 L605.8,444.6 L606.8,443.7 L607.8,442.8 L608.9,441.8 L609.9,440.9 L610.9,439.9 L611.9,439.0 L612.9,438.1 L614.0,437.1 L615.0,436.2 L616.0,435.3 L617.1,434.3 L618.1,433.4 L619.2,432.5 L620.2,431.6 L621.2,430.6 L622.3,429.7 L623.3,428.8 L624.4,427.8 L625.5,426.9 L626.5,426.0 L627.6,425.1 L628.6,424.1 L629.7,423.2 L630.8,422.3 L631.9,421.4 L632.9,420.5 L634.0,419.6 L635.1,418.8 L636.2,417.9 L637.3,417.1 L638.4,416.2 L639.4,415.3 L640.5,414.5 L641.6,413.6 L642.7,412.8 L643.8,411.9 L644.9,411.1 L646.1,410.2 L647.2,409.4 L648.3,408.5 L649.4,407.7 L650.5,406.8 L651.6,406.0 L652.7,405.1 L653.9,404.3 L655.0,403.4 L656.1,402.6 L657.3,401.8 L658.4,400.9 L659.5,400.1 L660.7,399.2 L661.8,398.4 L663.0,397.6 L664.1,396.7 L665.3,395.9 L666.4,395.1 L667.6,394.2 L668.7,393.4 L669.9,392.6 L671.0,391.7 L672.2,390.9 L673.4,390.1 L674.5,389.3 L675.7,388.4 L676.9,387.6 L678.1,386.8 L679.2,386.0 L680.4,385.2 L681.6,384.4 L682.8,383.5 L684.0,382.7 L685.2,381.9 L686.4,381.1 L687.6,380.3 L688.8,379.5 L690.0,378.7 L691.2,377.9 L692.4,377.1 L693.6,376.3 L694.8,375.5 L696.0,374.7 L697.2,373.9 L698.4,373.1 L699.6,372.3 L700.8,371.6 L702.1,370.8 L703.3,370.0 L704.5,369.2 L705.7,368.4 L707.0,367.7 L708.2,366.9 L709.4,366.1 L710.7,365.4 L711.9,364.6 L713.1,363.8 L714.4,363.1 L715.6,362.3 L716.8,361.6 L718.1,360.8 L719.3,360.0 L720.5,359.3 L721.7,358.5 L722.9,357.7 L724.0,357.0 L725.2,356.2 L726.4,355.4 L727.6,354.7 L728.8,353.9 L730.0,353.2 L731.2,352.5 L732.4,351.7 L733.6,351.0 L734.8,350.2 L736.0,349.5 L737.2,348.8 L738.4,348.1 L739.5,347.3 L740.7,346.6 L741.9,345.9 L743.1,345.2 L744.3,344.5 L745.5,343.8 L746.7,343.1 L747.9,342.4 L749.1,341.7 L750.3,341.0 L751.5,340.3 L752.7,339.7 L753.8,339.0 L755.0,338.3 L756.2,337.7 L757.4,337.0 L758.6,336.3 L759.8,335.7 L761.0,335.0 L762.2,334.4 L763.4,333.8 L764.6,333.1 L765.8,332.5 L767.0,331.9 L768.1,331.3 L769.3,330.7 L771.3,329.6 L773.3,328.6 L775.3,327.5 L777.3,326.5 L779.3,325.4 L781.3,324.4 L783.3,323.3 L785.3,322.3 L787.3,321.3 L789.3,320.2 L791.3,319.2 L793.3,318.1 L795.3,317.1 L797.3,316.0 L799.3,315.0 L801.3,313.9 L803.3,312.9 L805.3,311.9 L807.3,310.8 L809.3,309.8 L811.3,308.7 L813.3,307.7 L815.3,306.6 L821.3,306.5 L827.3,306.3 L833.3,306.2 L839.3,306.0 L845.3,305.9 L851.3,305.7 L857.3,305.6 L863.3,305.4 L869.3,305.3 L875.3,305.1 L881.3,305.0 L887.3,304.8 L893.3,304.7 L899.3,304.6 L905.3,304.4 L911.3,304.3 L917.3,304.1 L923.3,304.0 L929.3,303.9 L935.3,303.7 L941.3,303.6 L947.3,303.5 L953.3,303.3 L959.3,303.2 L965.3,303.1 L971.3,302.9 L977.3,302.8 L983.3,302.6 L989.3,302.5 L995.3,302.4 L1001.3,302.3 L1007.3,302.1 L1013.3,302.0 L1019.3,301.9 L1025.3,301.7 L1031.3,301.6 L1037.3,301.5 L1043.3,301.3 L1049.3,301.2 L1055.3,301.1 L1061.3,300.9 L1067.3,300.8 L1073.3,300.7 L1079.3,300.6 L1085.3,300.4 L1091.3,300.3 L1097.3,300.2 L1103.3,300.0 L1109.3,299.9 L1115.3,299.8 L1121.3,299.7 L1127.3,299.5 L1133.3,299.4 L1139.3,299.3 L1145.3,299.2 L1151.3,299.0 L1157.3,298.9 L1163.3,298.8 L1169.3,298.7 L1175.3,298.5 L1181.3,298.4 L1186.5,298.3" class="c" stroke-width="2.8"/>
<path d="M598.5,434.4 L598.8,434.1 L600.0,433.2 L601.2,432.2 L602.4,431.3 L603.4,430.4 L604.4,429.5 L605.4,428.5 L606.5,427.6 L607.5,426.7 L608.5,425.8 L609.6,424.8 L610.6,423.9 L611.7,423.0 L612.7,422.1 L613.8,421.2 L614.8,420.3 L615.9,419.5 L616.9,418.6 L618.0,417.8 L619.1,416.9 L620.1,416.1 L621.2,415.2 L622.3,414.3 L623.4,413.5 L624.5,412.6 L625.6,411.8 L626.7,410.9 L627.8,410.1 L628.9,409.2 L630.0,408.4 L631.1,407.5 L632.2,406.7 L633.3,405.9 L634.5,405.0 L635.6,404.2 L636.7,403.3 L637.9,402.5 L639.0,401.6 L640.1,400.8 L641.3,400.0 L642.4,399.1 L643.6,398.3 L644.7,397.5 L645.9,396.6 L647.1,395.8 L648.2,395.0 L649.4,394.1 L650.6,393.3 L651.8,392.5 L652.9,391.7 L654.1,390.8 L655.3,390.0 L656.5,389.2 L657.7,388.4 L658.9,387.6 L660.1,386.7 L661.3,385.9 L662.5,385.1 L663.7,384.3 L664.9,383.5 L666.2,382.7 L667.4,381.9 L668.6,381.1 L669.8,380.3 L671.1,379.5 L672.3,378.7 L673.5,377.9 L674.8,377.1 L676.0,376.3 L677.3,375.5 L678.5,374.7 L679.8,373.9 L681.0,373.1 L682.3,372.3 L683.6,371.5 L684.8,370.8 L686.1,370.0 L687.4,369.2 L688.6,368.4 L689.9,367.7 L691.2,366.9 L692.5,366.1 L693.8,365.4 L695.0,364.6 L696.3,363.8 L697.6,363.1 L698.9,362.3 L700.2,361.6 L701.5,360.8 L702.7,360.0 L703.9,359.3 L705.1,358.5 L706.3,357.7 L707.5,357.0 L708.7,356.2 L709.9,355.5 L711.1,354.7 L712.2,354.0 L713.4,353.2 L714.6,352.5 L715.8,351.7 L717.0,351.0 L718.2,350.3 L719.4,349.5 L720.6,348.8 L721.8,348.1 L723.0,347.4 L724.2,346.7 L725.4,345.9 L726.5,345.2 L727.7,344.5 L728.9,343.8 L730.1,343.1 L731.3,342.4 L732.5,341.8 L733.7,341.1 L734.9,340.4 L736.1,339.7 L737.3,339.0 L738.5,338.4 L739.7,337.7 L740.9,337.1 L742.0,336.4 L743.2,335.8 L744.4,335.1 L745.6,334.5 L746.8,333.8 L748.0,333.2 L749.2,332.6 L750.4,332.0 L752.4,330.9 L754.4,329.9 L756.4,328.8 L758.4,327.7 L760.4,326.7 L762.4,325.6 L764.4,324.6 L766.4,323.5 L768.4,322.4 L770.4,321.4 L772.4,320.3 L774.4,319.3 L776.4,318.2 L778.4,317.1 L780.4,316.1 L782.4,315.0 L784.4,314.0 L786.4,312.9 L788.4,311.8 L790.4,310.8 L792.4,309.7 L794.4,308.7 L796.4,307.6 L798.4,307.1 L804.4,306.9 L810.4,306.8 L816.4,306.6 L822.4,306.4 L828.4,306.3 L834.4,306.1 L840.4,306.0 L846.4,305.8 L852.4,305.7 L858.4,305.5 L864.4,305.4 L870.4,305.3 L876.4,305.1 L882.4,305.0 L888.4,304.8 L894.4,304.7 L900.4,304.5 L906.4,304.4 L912.4,304.3 L918.4,304.1 L924.4,304.0 L930.4,303.8 L936.4,303.7 L942.4,303.6 L948.4,303.4 L954.4,303.3 L960.4,303.2 L966.4,303.0 L972.4,302.9 L978.4,302.8 L984.4,302.6 L990.4,302.5 L996.4,302.4 L1002.4,302.2 L1008.4,302.1 L1014.4,302.0 L1020.4,301.8 L1026.4,301.7 L1032.4,301.6 L1038.4,301.4 L1044.4,301.3 L1050.4,301.2 L1056.4,301.1 L1062.4,300.9 L1068.4,300.8 L1074.4,300.7 L1080.4,300.5 L1086.4,300.4 L1092.4,300.3 L1098.4,300.2 L1104.4,300.0 L1110.4,299.9 L1116.4,299.8 L1122.4,299.6 L1128.4,299.5 L1134.4,299.4 L1140.4,299.3 L1146.4,299.1 L1152.4,299.0 L1158.4,298.9 L1164.4,298.8 L1170.4,298.6 L1176.4,298.5 L1182.4,298.4 L1186.5,298.3" class="c" stroke-width="2.8"/>
<path d="M598.5,421.3 L599.1,420.8 L600.3,420.0 L601.5,419.1 L602.6,418.3 L603.7,417.4 L604.8,416.6 L606.0,415.7 L607.1,414.9 L608.2,414.0 L609.4,413.2 L610.5,412.3 L611.6,411.5 L612.7,410.6 L613.8,409.8 L615.0,408.9 L616.1,408.1 L617.2,407.3 L618.3,406.4 L619.4,405.6 L620.5,404.7 L621.7,403.9 L622.8,403.1 L623.9,402.2 L625.0,401.4 L626.1,400.6 L627.2,399.7 L628.3,398.9 L629.4,398.1 L630.5,397.2 L631.6,396.4 L632.7,395.6 L633.8,394.7 L634.9,393.9 L636.0,393.1 L637.1,392.3 L638.2,391.4 L639.3,390.6 L640.4,389.8 L641.5,389.0 L642.6,388.2 L643.7,387.3 L644.8,386.5 L645.9,385.7 L647.0,384.9 L648.0,384.1 L649.1,383.3 L650.2,382.5 L651.3,381.7 L652.4,380.9 L653.5,380.1 L654.6,379.3 L655.6,378.5 L656.7,377.7 L657.8,376.9 L658.9,376.1 L660.0,375.3 L661.0,374.5 L662.1,373.7 L663.2,372.9 L664.3,372.2 L665.3,371.4 L666.4,370.6 L667.5,369.8 L668.6,369.1 L669.6,368.3 L670.7,367.5 L671.8,366.7 L672.8,366.0 L673.9,365.2 L675.0,364.5 L676.0,363.7 L677.1,362.9 L678.2,362.2 L679.2,361.4 L680.3,360.7 L681.5,359.9 L682.7,359.2 L683.9,358.4 L685.1,357.6 L686.3,356.9 L687.5,356.1 L688.7,355.4 L689.9,354.6 L691.1,353.9 L692.3,353.1 L693.4,352.4 L694.6,351.6 L695.8,350.9 L697.0,350.2 L698.2,349.4 L699.4,348.7 L700.6,348.0 L701.8,347.3 L703.0,346.6 L704.2,345.9 L705.4,345.2 L706.6,344.5 L707.7,343.8 L708.9,343.1 L710.1,342.4 L711.3,341.7 L712.5,341.0 L713.7,340.3 L714.9,339.7 L716.1,339.0 L717.3,338.3 L718.5,337.7 L719.7,337.0 L720.9,336.4 L722.0,335.7 L723.2,335.1 L724.4,334.4 L725.6,333.8 L726.8,333.2 L728.0,332.6 L729.2,331.9 L731.2,330.9 L733.2,329.8 L735.2,328.8 L737.2,327.7 L739.2,326.7 L741.2,325.6 L743.2,324.6 L745.2,323.5 L747.2,322.5 L749.2,321.4 L751.2,320.4 L753.2,319.3 L755.2,318.2 L757.2,317.2 L759.2,316.1 L761.2,315.1 L763.2,314.0 L765.2,313.0 L767.2,311.9 L769.2,310.9 L771.2,309.8 L773.2,308.8 L775.2,307.7 L777.2,307.7 L783.2,307.5 L789.2,307.4 L795.2,307.2 L801.2,307.0 L807.2,306.9 L813.2,306.7 L819.2,306.5 L825.2,306.4 L831.2,306.2 L837.2,306.1 L843.2,305.9 L849.2,305.8 L855.2,305.6 L861.2,305.5 L867.2,305.3 L873.2,305.2 L879.2,305.0 L885.2,304.9 L891.2,304.8 L897.2,304.6 L903.2,304.5 L909.2,304.3 L915.2,304.2 L921.2,304.1 L927.2,303.9 L933.2,303.8 L939.2,303.6 L945.2,303.5 L951.2,303.4 L957.2,303.2 L963.2,303.1 L969.2,303.0 L975.2,302.8 L981.2,302.7 L987.2,302.6 L993.2,302.4 L999.2,302.3 L1005.2,302.2 L1011.2,302.0 L1017.2,301.9 L1023.2,301.8 L1029.2,301.6 L1035.2,301.5 L1041.2,301.4 L1047.2,301.2 L1053.2,301.1 L1059.2,301.0 L1065.2,300.9 L1071.2,300.7 L1077.2,300.6 L1083.2,300.5 L1089.2,300.3 L1095.2,300.2 L1101.2,300.1 L1107.2,300.0 L1113.2,299.8 L1119.2,299.7 L1125.2,299.6 L1131.2,299.5 L1137.2,299.3 L1143.2,299.2 L1149.2,299.1 L1155.2,299.0 L1161.2,298.8 L1167.2,298.7 L1173.2,298.6 L1179.2,298.5 L1185.2,298.3 L1186.5,298.3" class="c" stroke-width="2.8"/>
<rect x="543.5" y="538" width="44.5" height="24" class="w"/>
<rect x="547.5" y="731" width="45" height="24" class="w"/>
<text x="381.7" y="307.6" class="tl" text-anchor="middle">6</text>
<text x="381.7" y="370.4" class="tl" text-anchor="middle">2</text>
<text x="381.7" y="431.2" class="tl" text-anchor="middle">−2</text>
<text x="381.7" y="496.3" class="tl" text-anchor="middle">−6</text>
<text x="381.7" y="559.9" class="tl" text-anchor="middle">−10</text>
<text x="381.7" y="625.9" class="tl" text-anchor="middle">−14</text>
<text x="381.7" y="687.3" class="tl" text-anchor="middle">−18</text>
<text x="381.7" y="753.5" class="tl" text-anchor="middle">−22</text>
<text x="413" y="780" class="tl" text-anchor="middle">10</text>
<text x="783" y="770.8" class="tl" text-anchor="middle">100</text>
<text x="1180.5" y="770.7" class="tl" text-anchor="middle">1000</text>
<text x="1069" y="812.9" class="at">Частота, МГц</text>
<text transform="translate(339.7,606) rotate(-90)" class="at">Погрешность, дБ</text>
<text x="609.5" y="395.8" class="cl" style="font-size:26px">2</text>
<text x="576.0" y="519.7" class="cl" style="font-size:26px">1</text>
<text x="548.2" y="558.8" class="cl" style="font-size:26px">0,8</text>
<text x="554.3" y="595.1" class="cl" style="font-size:26px">0,6</text>
<text x="555.3" y="651.2" class="cl" style="font-size:26px">0,4</text>
<text x="552.2" y="750.3" class="cl" style="font-size:26px">0,2</text>
<g stroke="#cfcfcf" stroke-width="6">
<line x1="403" y1="1118.8" x2="1166.5" y2="1118.8" style="stroke:#d4d4d4"/>
<line x1="403" y1="1167.2" x2="1166.5" y2="1167.2" style="stroke:#d4d4d4"/>
<line x1="403" y1="1214.4" x2="1166.5" y2="1214.4" style="stroke:#d4d4d4"/>
<line x1="403" y1="1263" x2="1166.5" y2="1263" style="stroke:#d4d4d4"/>
<line x1="403" y1="1311.6" x2="1166.5" y2="1311.6" style="stroke:#d4d4d4"/>
<line x1="403" y1="1360.1" x2="1166.5" y2="1360.1" style="stroke:#d4d4d4"/>
<line x1="403" y1="1409.3" x2="1166.5" y2="1409.3" style="stroke:#d4d4d4"/>
<line x1="403" y1="1458.1" x2="1166.5" y2="1458.1" style="stroke:#d4d4d4"/>
<line x1="403" y1="1507.5" x2="1166.5" y2="1507.5" style="stroke:#d4d4d4"/>
<line x1="403" y1="1556.1" x2="1166.5" y2="1556.1" style="stroke:#d4d4d4"/>
<line x1="403" y1="1605.6" x2="1166.5" y2="1605.6" style="stroke:#d4d4d4"/>
<line x1="517.4" y1="1117.5" x2="517.4" y2="1607" style="stroke:#d4d4d4"/>
<line x1="584" y1="1117.5" x2="584" y2="1607" style="stroke:#d4d4d4"/>
<line x1="631.5" y1="1117.5" x2="631.5" y2="1607" style="stroke:#d4d4d4"/>
<line x1="669.2" y1="1117.5" x2="669.2" y2="1607" style="stroke:#d4d4d4"/>
<line x1="699.3" y1="1117.5" x2="699.3" y2="1607" style="stroke:#d4d4d4"/>
<line x1="724.7" y1="1117.5" x2="724.7" y2="1607" style="stroke:#d4d4d4"/>
<line x1="747.2" y1="1117.5" x2="747.2" y2="1607" style="stroke:#d4d4d4"/>
<line x1="767" y1="1117.5" x2="767" y2="1607" style="stroke:#d4d4d4"/>
<line x1="783.1" y1="1117.5" x2="783.1" y2="1607" style="stroke:#d4d4d4"/>
<line x1="898.5" y1="1117.5" x2="898.5" y2="1607" style="stroke:#d4d4d4"/>
<line x1="965.7" y1="1117.5" x2="965.7" y2="1607" style="stroke:#d4d4d4"/>
<line x1="1013.4" y1="1117.5" x2="1013.4" y2="1607" style="stroke:#d4d4d4"/>
<line x1="1050" y1="1117.5" x2="1050" y2="1607" style="stroke:#d4d4d4"/>
<line x1="1080.8" y1="1117.5" x2="1080.8" y2="1607" style="stroke:#d4d4d4"/>
<line x1="1107" y1="1117.5" x2="1107" y2="1607" style="stroke:#d4d4d4"/>
<line x1="1128" y1="1117.5" x2="1128" y2="1607" style="stroke:#d4d4d4"/>
<line x1="1148" y1="1117.5" x2="1148" y2="1607" style="stroke:#d4d4d4"/>
<line x1="1165" y1="1117.5" x2="1165" y2="1607" style="stroke:#d4d4d4"/>
</g>
<line x1="403" y1="1118.8" x2="1166.5" y2="1118.8" stroke-width="3"/>
<line x1="403" y1="1167.2" x2="1166.5" y2="1167.2" stroke-width="3"/>
<line x1="403" y1="1214.4" x2="1166.5" y2="1214.4" stroke-width="3"/>
<line x1="403" y1="1263" x2="1166.5" y2="1263" stroke-width="3"/>
<line x1="403" y1="1311.6" x2="1166.5" y2="1311.6" stroke-width="3"/>
<line x1="403" y1="1360.1" x2="1166.5" y2="1360.1" stroke-width="3"/>
<line x1="403" y1="1409.3" x2="1166.5" y2="1409.3" stroke-width="3"/>
<line x1="403" y1="1458.1" x2="1166.5" y2="1458.1" stroke-width="3"/>
<line x1="403" y1="1507.5" x2="1166.5" y2="1507.5" stroke-width="3"/>
<line x1="403" y1="1556.1" x2="1166.5" y2="1556.1" stroke-width="3"/>
<line x1="403" y1="1605.6" x2="1166.5" y2="1605.6" stroke-width="4"/>
<line x1="517.4" y1="1117.5" x2="517.4" y2="1607" stroke-width="3"/>
<line x1="584" y1="1117.5" x2="584" y2="1607" stroke-width="3"/>
<line x1="631.5" y1="1117.5" x2="631.5" y2="1607" stroke-width="3"/>
<line x1="669.2" y1="1117.5" x2="669.2" y2="1607" stroke-width="3"/>
<line x1="699.3" y1="1117.5" x2="699.3" y2="1607" stroke-width="3"/>
<line x1="724.7" y1="1117.5" x2="724.7" y2="1607" stroke-width="3"/>
<line x1="747.2" y1="1117.5" x2="747.2" y2="1607" stroke-width="3"/>
<line x1="767" y1="1117.5" x2="767" y2="1607" stroke-width="3"/>
<line x1="783.1" y1="1117.5" x2="783.1" y2="1607" stroke-width="3"/>
<line x1="898.5" y1="1117.5" x2="898.5" y2="1607" stroke-width="3"/>
<line x1="965.7" y1="1117.5" x2="965.7" y2="1607" stroke-width="3"/>
<line x1="1013.4" y1="1117.5" x2="1013.4" y2="1607" stroke-width="3"/>
<line x1="1050" y1="1117.5" x2="1050" y2="1607" stroke-width="3"/>
<line x1="1080.8" y1="1117.5" x2="1080.8" y2="1607" stroke-width="3"/>
<line x1="1107" y1="1117.5" x2="1107" y2="1607" stroke-width="3"/>
<line x1="1128" y1="1117.5" x2="1128" y2="1607" stroke-width="3"/>
<line x1="1148" y1="1117.5" x2="1148" y2="1607" stroke-width="3"/>
<line x1="1165" y1="1117.5" x2="1165" y2="1607" stroke-width="3"/>
<line x1="403.2" y1="1076" x2="403.2" y2="1611.7" stroke-width="2.5"/>
<path d="M403.2,1066 L409,1080 L403.2,1077.5 L397.4,1080 Z" class="f"/>
<line x1="1160" y1="1605.6" x2="1228" y2="1605.6" stroke-width="2"/>
<path d="M1237.5,1605.6 L1222.5,1611.5 L1225.5,1605.6 L1222.5,1599.7 Z" class="f"/>
<line x1="403.2" y1="1645" x2="403.2" y2="1675" stroke-width="2"/>
<path d="M403.2,1683.5 L409,1667.5 L403.2,1670.5 L397.4,1667.5 Z" class="f"/>
<defs><linearGradient id="bg2" gradientUnits="userSpaceOnUse" x1="584.0" y1="0" x2="736.3" y2="0"><stop offset="0" stop-color="#151515" stop-opacity="0.95"/><stop offset="0.35" stop-color="#151515" stop-opacity="0.7"/><stop offset="1" stop-color="#151515" stop-opacity="0"/></linearGradient></defs>
<polygon points="584.0,1124.3 589.2,1124.3 594.4,1124.4 599.6,1124.4 604.8,1124.4 610.0,1124.4 615.2,1124.4 620.4,1124.4 625.7,1124.4 630.9,1124.4 636.2,1124.4 641.6,1124.4 646.9,1124.4 652.3,1124.4 657.7,1124.4 663.0,1124.4 668.3,1124.4 673.6,1124.4 678.8,1124.4 684.0,1124.4 689.2,1124.4 694.4,1124.4 699.6,1124.4 704.8,1124.5 710.0,1124.5 715.2,1124.5 720.4,1124.5 725.7,1124.5 731.0,1124.5 736.3,1124.5 736.3,1142.6 731.0,1142.1 725.7,1141.6 720.4,1141.1 715.2,1140.7 710.0,1140.3 704.8,1139.9 699.6,1139.5 694.4,1139.2 689.2,1138.9 684.0,1138.6 678.8,1138.3 673.6,1138.0 668.3,1137.8 663.0,1137.6 657.7,1137.3 652.3,1137.1 646.9,1137.0 641.6,1136.8 636.2,1136.6 630.9,1136.4 625.7,1136.3 620.4,1136.2 615.2,1136.0 610.0,1135.9 604.8,1135.8 599.6,1135.7 594.4,1135.6 589.2,1135.5 584.0,1135.4" fill="url(#bg2)"/>
<defs><linearGradient id="bg3" gradientUnits="userSpaceOnUse" x1="584.0" y1="0" x2="699.3" y2="0"><stop offset="0" stop-color="#151515" stop-opacity="0.55"/><stop offset="0.5" stop-color="#151515" stop-opacity="0.3"/><stop offset="1" stop-color="#151515" stop-opacity="0"/></linearGradient></defs>
<polygon points="584.0,1135.4 587.9,1135.5 591.9,1135.5 595.8,1135.6 599.7,1135.7 603.7,1135.8 607.6,1135.9 611.5,1135.9 615.5,1136.0 619.4,1136.1 623.4,1136.2 627.4,1136.3 631.4,1136.5 635.4,1136.6 639.4,1136.7 643.4,1136.8 647.5,1137.0 651.6,1137.1 655.6,1137.3 659.7,1137.4 663.7,1137.6 667.7,1137.8 671.7,1138.0 675.7,1138.1 679.6,1138.3 683.6,1138.6 687.5,1138.8 691.4,1139.0 695.4,1139.3 699.3,1139.5 699.3,1160.2 695.4,1159.6 691.4,1159.0 687.5,1158.4 683.6,1157.9 679.6,1157.4 675.7,1157.0 671.7,1156.5 667.7,1156.1 663.7,1155.7 659.7,1155.3 655.6,1154.9 651.6,1154.6 647.5,1154.2 643.4,1153.9 639.4,1153.6 635.4,1153.3 631.4,1153.0 627.4,1152.8 623.4,1152.5 619.4,1152.3 615.5,1152.1 611.5,1151.8 607.6,1151.6 603.7,1151.4 599.7,1151.3 595.8,1151.1 591.9,1150.9 587.9,1150.7 584.0,1150.6" fill="url(#bg3)"/>
<defs><linearGradient id="bg4" gradientUnits="userSpaceOnUse" x1="724.7" y1="0" x2="898.5" y2="0"><stop offset="0" stop-color="#151515" stop-opacity="0.8"/><stop offset="0.6" stop-color="#151515" stop-opacity="0.5"/><stop offset="1" stop-color="#151515" stop-opacity="0"/></linearGradient></defs>
<polygon points="724.7,1124.5 730.8,1124.5 736.9,1124.5 743.0,1124.5 749.1,1124.6 755.3,1124.6 761.4,1124.6 767.3,1124.6 772.9,1124.6 778.4,1124.7 783.9,1124.7 789.7,1124.7 795.5,1124.7 801.4,1124.8 807.3,1124.8 813.3,1124.8 819.3,1124.9 825.3,1124.9 831.4,1125.0 837.5,1125.0 843.6,1125.1 849.7,1125.1 855.8,1125.2 862.0,1125.3 868.1,1125.3 874.2,1125.4 880.3,1125.5 886.4,1125.6 892.5,1125.7 898.5,1125.8 898.5,1139.4 892.5,1138.5 886.4,1137.6 880.3,1136.8 874.2,1136.1 868.1,1135.4 862.0,1134.7 855.8,1134.1 849.7,1133.6 843.6,1133.1 837.5,1132.6 831.4,1132.1 825.3,1131.7 819.3,1131.3 813.3,1131.0 807.3,1130.6 801.4,1130.3 795.5,1130.0 789.7,1129.8 783.9,1129.5 778.4,1129.3 772.9,1129.1 767.3,1128.9 761.4,1128.7 755.3,1128.5 749.1,1128.4 743.0,1128.2 736.9,1128.1 730.8,1127.9 724.7,1127.8" fill="url(#bg4)"/>
<path d="M584.0,1124.3 L609.4,1124.4 L631.5,1124.4 L651.4,1124.4 L669.2,1124.4 L699.3,1124.4 L724.7,1124.5 L747.2,1124.5 L767.0,1124.6 L783.1,1124.7 L805.6,1124.8" class="c" stroke-width="2.9"/>
<path d="M805.6,1124.8 L825.9,1124.9 L850.0,1125.1 L876.1,1125.4 L898.5,1125.8 L921.7,1126.2 L942.0,1126.8 L965.7,1127.6 L991.3,1128.8 L1013.4,1130.2 L1032.7,1131.8 L1050.0,1133.5 L1066.0,1135.5 L1080.8,1137.6 L1094.5,1139.9 L1107.0,1142.5 L1117.8,1145.2 L1128.0,1148.1 L1138.3,1151.3 L1148.0,1154.6 L1156.8,1158.2 L1165.0,1161.9" class="c" stroke-width="2.3"/>
<path d="M584.0,1125.2 L609.4,1125.2 L631.5,1125.3 L651.4,1125.3 L669.2,1125.4 L699.3,1125.6 L724.7,1125.7 L747.2,1126.0 L767.0,1126.2 L783.1,1126.5 L805.6,1127.0" class="c" stroke-width="2.9"/>
<path d="M805.6,1127.0 L825.9,1127.5 L850.0,1128.3 L876.1,1129.5 L898.5,1130.9 L921.7,1132.8 L942.0,1135.0 L965.7,1138.3 L991.3,1143.1 L1013.4,1148.8 L1032.7,1155.3 L1050.0,1162.6 L1066.0,1170.7 L1080.8,1179.5 L1094.5,1189.3 L1107.0,1200.1 L1117.8,1211.9 L1128.0,1225.0 L1143.7,1247.6 L1156.8,1217.9 L1165.0,1208.0" class="c" stroke-width="2.3"/>
<path d="M584.0,1126.5 L609.4,1126.6 L631.5,1126.7 L651.4,1126.9 L669.2,1127.0 L699.3,1127.4 L724.7,1127.8 L747.2,1128.3 L767.0,1128.9 L783.1,1129.5 L805.6,1130.6" class="c" stroke-width="2.9"/>
<path d="M805.6,1130.6 L825.9,1131.8 L850.0,1133.6 L876.1,1136.3 L898.5,1139.4 L921.7,1143.8 L942.0,1148.7 L965.7,1156.4 L991.3,1167.6 L1013.4,1180.6 L1032.7,1195.6 L1050.0,1212.8 L1066.0,1233.0 L1076.2,1248.3 L1094.5,1213.1 L1107.0,1200.2 L1117.8,1189.8 L1128.0,1181.4 L1138.3,1174.4 L1148.0,1168.6 L1156.8,1163.6 L1165.0,1159.3" class="c" stroke-width="2.3"/>
<path d="M584.0,1128.4 L609.4,1128.6 L631.5,1128.8 L651.4,1129.0 L669.2,1129.3 L699.3,1130.0 L724.7,1130.7 L747.2,1131.6 L767.0,1132.6 L783.1,1133.7 L805.6,1135.6" class="c" stroke-width="2.9"/>
<path d="M805.6,1135.6 L825.9,1137.7 L850.0,1141.1 L876.1,1145.9 L898.5,1151.5 L921.7,1159.3 L942.0,1168.3 L965.7,1182.0 L991.3,1202.5 L1013.4,1227.3 L1028.2,1249.5 L1050.0,1209.2 L1066.0,1193.9 L1080.8,1182.4 L1094.5,1173.4 L1107.0,1166.4 L1117.8,1160.5 L1128.0,1155.8 L1138.3,1151.9 L1148.0,1148.6 L1156.8,1145.8 L1165.0,1143.5" class="c" stroke-width="2.3"/>
<path d="M584.0,1130.8 L609.4,1131.1 L631.5,1131.4 L651.4,1131.8 L669.2,1132.2 L699.3,1133.2 L724.7,1134.4 L747.2,1135.8 L767.0,1137.3 L783.1,1139.1 L805.6,1142.0" class="c" stroke-width="2.9"/>
<path d="M805.6,1142.0 L825.9,1145.4 L850.0,1150.6 L876.1,1158.3 L898.5,1167.2 L921.7,1179.4 L942.0,1193.6 L965.7,1215.9 L991.2,1250.8 L1013.4,1210.1 L1032.7,1191.9 L1050.0,1179.0 L1066.0,1169.5 L1080.8,1162.2 L1094.5,1156.4 L1107.0,1151.9 L1117.8,1148.3 L1128.0,1145.3 L1138.3,1142.9 L1148.0,1140.9 L1156.8,1139.1 L1165.0,1137.6" class="c" stroke-width="2.3"/>
<path d="M584.0,1133.7 L609.4,1134.2 L631.5,1134.6 L651.4,1135.2 L669.2,1135.8 L699.3,1137.3 L724.7,1138.9 L747.2,1140.9 L767.0,1143.1 L783.1,1145.7 L805.6,1149.9" class="c" stroke-width="2.9"/>
<path d="M805.6,1149.9 L825.9,1154.8 L850.0,1162.4 L876.1,1173.4 L898.5,1186.1 L921.7,1204.2 L942.0,1225.8 L960.9,1252.7 L991.3,1203.3 L1013.4,1185.2 L1032.7,1172.9 L1050.0,1164.1 L1066.0,1157.6 L1080.8,1152.6 L1094.5,1148.7 L1107.0,1145.7 L1117.8,1143.2 L1128.0,1141.2 L1138.3,1139.6 L1148.0,1138.2 L1156.8,1137.0 L1165.0,1136.0" class="c" stroke-width="2.3"/>
<path d="M584.0,1137.2 L609.4,1137.8 L631.5,1138.4 L651.4,1139.2 L669.2,1140.0 L699.3,1142.0 L724.7,1144.3 L747.2,1146.9 L767.0,1150.0 L783.1,1153.4 L805.6,1159.2" class="c" stroke-width="2.9"/>
<path d="M805.6,1159.2 L825.9,1166.0 L850.0,1176.1 L876.1,1191.1 L898.5,1208.9 L921.7,1234.9 L935.3,1254.9 L965.7,1204.8 L991.3,1184.7 L1013.4,1171.8 L1032.7,1163.0 L1050.0,1156.6 L1066.0,1152.0 L1080.8,1148.4 L1094.5,1145.7 L1107.0,1143.5 L1117.8,1141.8 L1128.0,1140.3 L1138.3,1139.2 L1148.0,1138.2 L1156.8,1137.3 L1165.0,1136.6" class="c" stroke-width="2.3"/>
<path d="M584.0,1141.2 L609.4,1141.9 L631.5,1142.8 L651.4,1143.7 L669.2,1144.8 L699.3,1147.4 L724.7,1150.4 L747.2,1153.8 L767.0,1157.8 L783.1,1162.3 L805.6,1169.9" class="c" stroke-width="2.9"/>
<path d="M805.6,1169.9 L825.9,1178.5 L850.0,1191.9 L876.1,1211.8 L898.5,1236.4 L913.3,1257.1 L942.0,1207.9 L965.7,1189.1 L991.3,1174.3 L1013.4,1164.7 L1032.7,1158.1 L1050.0,1153.4 L1066.0,1150.0 L1080.8,1147.4 L1094.5,1145.3 L1107.0,1143.7 L1117.8,1142.4 L1128.0,1141.4 L1138.3,1140.5 L1148.0,1139.8 L1157.6,1139.1" class="c" stroke-width="2.3"/>
<path d="M584.0,1145.6 L609.4,1146.6 L631.5,1147.6 L651.4,1148.9 L669.2,1150.2 L699.3,1153.4 L724.7,1157.2 L747.2,1161.6 L767.0,1166.6 L783.1,1172.2 L805.6,1181.7" class="c" stroke-width="2.9"/>
<path d="M805.6,1181.7 L825.9,1192.7 L850.0,1209.8 L876.1,1236.3 L893.4,1260.2 L921.7,1210.5 L942.0,1194.3 L965.7,1180.0 L991.3,1168.8 L1013.4,1161.5 L1032.7,1156.4 L1050.0,1152.9 L1066.0,1150.2 L1080.8,1148.3 L1094.5,1146.7 L1107.0,1145.5 L1117.8,1144.5 L1128.0,1143.7 L1138.5,1143.0 L1151.1,1155.8 L1165.0,1153.0" class="c" stroke-width="2.3"/>
<path d="M584.0,1150.6 L609.4,1151.7 L631.5,1153.1 L651.4,1154.6 L669.2,1156.2 L699.3,1160.2 L724.7,1164.8 L747.2,1170.2 L767.0,1176.2 L783.1,1183.1 L805.6,1194.8" class="c" stroke-width="2.9"/>
<path d="M805.6,1194.8 L825.9,1208.5 L850.0,1230.5 L875.4,1263.0 L898.5,1217.9 L921.7,1198.8 L942.0,1186.3 L965.7,1175.2 L991.3,1166.5 L1013.4,1160.8 L1032.7,1156.9 L1050.0,1154.1 L1066.0,1152.1 L1080.8,1150.6 L1094.5,1149.4 L1107.0,1148.4 L1121.5,1147.4 L1133.6,1159.7 L1148.0,1157.0 L1156.8,1155.5 L1165.0,1154.2" class="c" stroke-width="2.3"/>
<rect x="974" y="1251" width="27" height="28" class="w"/>
<rect x="1011" y="1251" width="41" height="28" class="w"/>
<rect x="1062" y="1251" width="39" height="28" class="w"/>
<rect x="1118" y="1251" width="38" height="28" class="w"/>
<text x="382.3" y="1128.1" class="tl2" text-anchor="middle">6</text>
<text x="382.3" y="1175.7" class="tl2" text-anchor="middle">5</text>
<text x="382.3" y="1222.9" class="tl2" text-anchor="middle">4</text>
<text x="382.3" y="1271.3" class="tl2" text-anchor="middle">3</text>
<text x="382.3" y="1318.5" class="tl2" text-anchor="middle">2</text>
<text x="382.3" y="1365.6" class="tl2" text-anchor="middle">1</text>
<text x="382.3" y="1414.0" class="tl2" text-anchor="middle">0</text>
<text x="382.3" y="1460.5" class="tl2" text-anchor="middle">−1</text>
<text x="382.3" y="1509.0" class="tl2" text-anchor="middle">−2</text>
<text x="382.3" y="1556.4" class="tl2" text-anchor="middle">−3</text>
<text x="382.3" y="1603.7" class="tl2" text-anchor="middle">−4</text>
<text x="402" y="1636.7" class="tl2" text-anchor="middle">10</text>
<text x="767.5" y="1636.7" class="tl2" text-anchor="middle">100</text>
<text x="1149" y="1633.2" class="tl2" text-anchor="middle">1000</text>
<text x="1080" y="1681.3" class="at">Частота, МГц</text>
<text transform="translate(352.7,1433.6) rotate(-90)" class="at">Погрешность, дБ</text>
<text x="865" y="1289.3" class="cl">2</text>
<text x="984.5" y="1271.0" class="cl">1</text>
<text x="1015" y="1271.0" class="cl">0,8</text>
<text x="1064" y="1271.0" class="cl">0,6</text>
<text x="1119.5" y="1271.0" class="cl">0,4</text>
</svg>
<div class="t j" style="left:188.5px;width:1266.5px;top:882.83px;"><span class="sp" style="margin-right:5px">Примечание</span> — Численные значения на графике обозначают положение источника над поверхностью</div>
<div class="t" style="left:119px;top:912.53px;">земли на <i>OATS</i>.</div>
<div class="t" style="left:0;width:1575px;text-align:center;top:958.73px;">Рисунок В.4 — Расстояние 10 м, горизонтальная поляризация, расчетные различия для электрически короткого</div>
<div class="t" style="left:0;width:1575px;text-align:center;top:988.23px;">прямого провода над поверхностью земли на <i>OATS</i> по сравнению с <i>FAR</i> (<i>E</i><sub>OATS</sub> – <i>E</i><sub>FAR</sub>)</div>
<div class="t j" style="left:188.5px;width:1266.5px;top:1753.63px;"><span class="sp" style="margin-right:5px">Примечание</span> — Численные значения на графике обозначают положение источника над поверхностью</div>
<div class="t" style="left:119px;top:1783.23px;">земли на <i>OATS</i>.</div>
<div class="t" style="left:0;width:1575px;text-align:center;top:1828.83px;">Рисунок В.5 — Расстояние 10 м, вертикальная поляризация, расчетные различия для электрически короткого</div>
<div class="t" style="left:0;width:1575px;text-align:center;top:1858.83px;">прямого провода над поверхностью земли на <i>OATS</i> по сравнению с <i>FAR</i> (<i>E</i><sub>OATS</sub> – <i>E</i><sub>FAR</sub>)</div>
<div class="t" style="right:198px;top:2114.63px;">15</div>
</body></html>
